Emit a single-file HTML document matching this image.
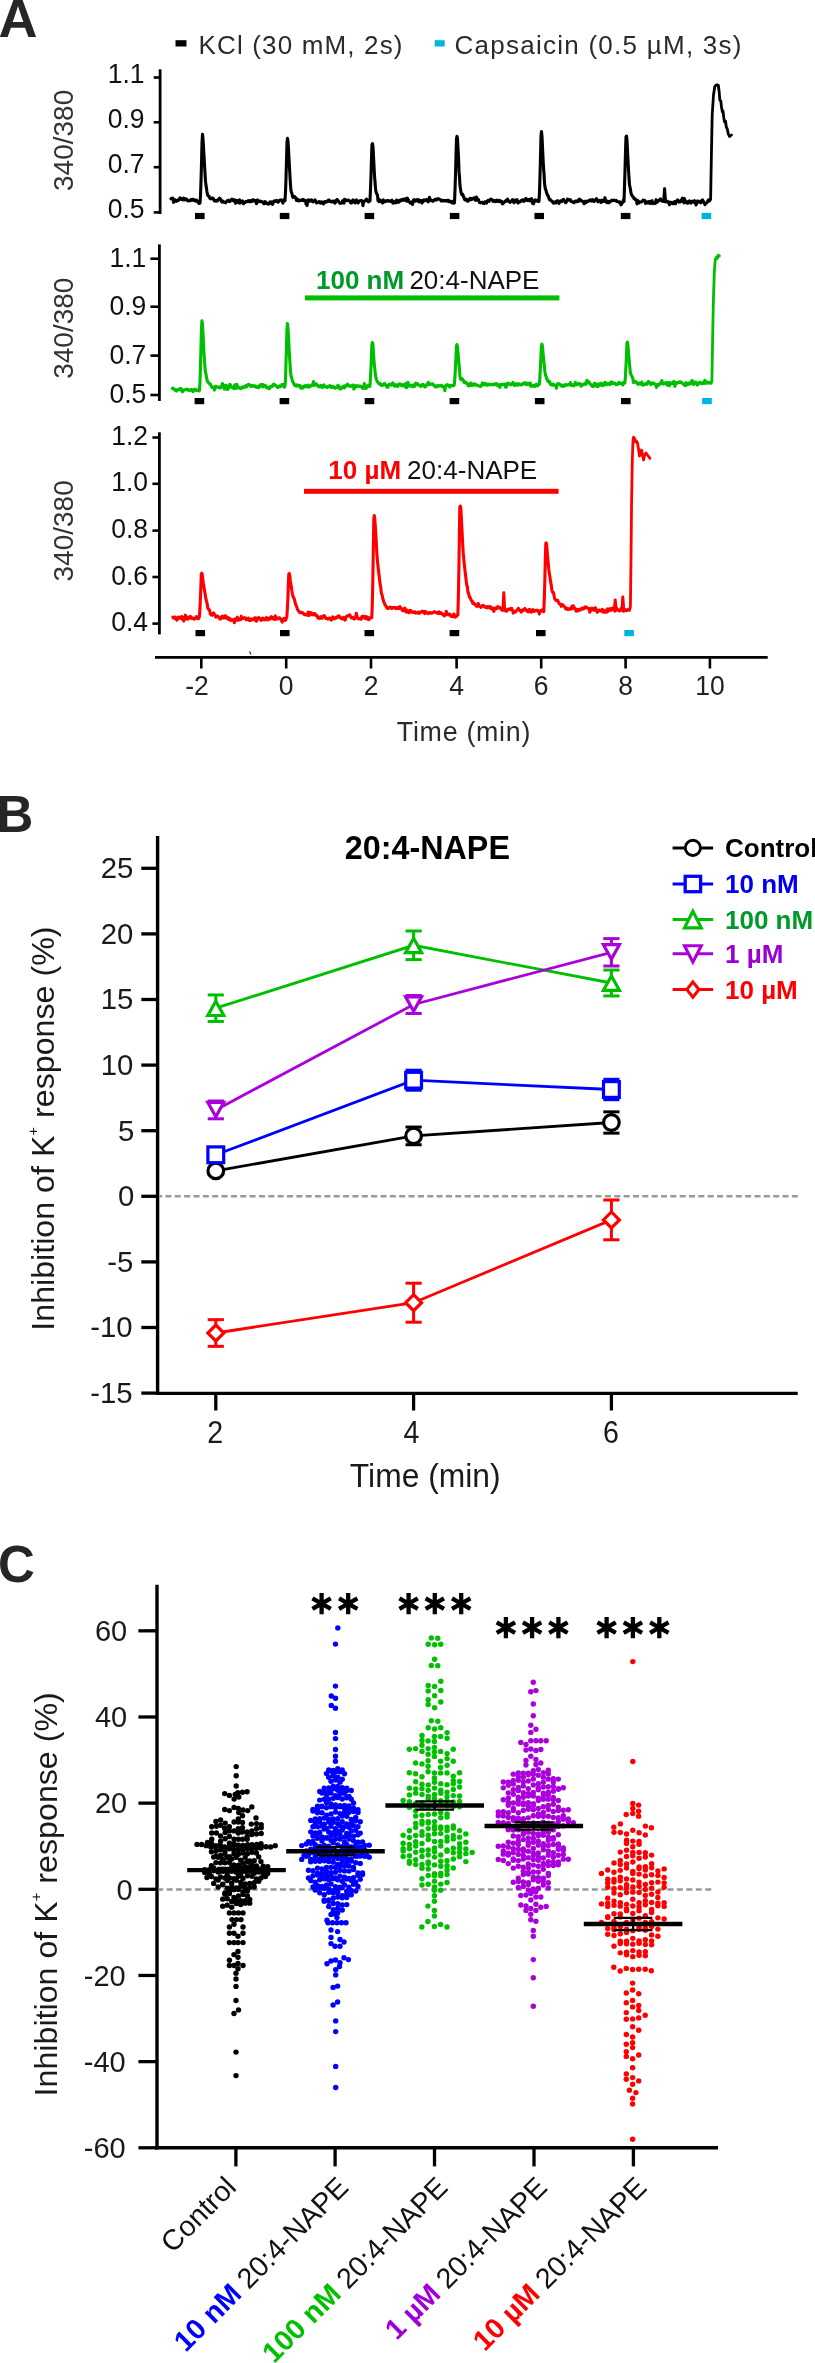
<!DOCTYPE html>
<html><head><meta charset="utf-8"><style>
html,body{margin:0;padding:0;background:#fff;overflow:hidden;width:815px;height:2363px;}
svg{display:block;font-family:"Liberation Sans", sans-serif;filter:blur(0.35px);}
</style></head><body>
<svg width="815" height="2363" viewBox="0 0 815 2363">
<rect width="815" height="2363" fill="#fff"/>
<text x="-1.4" y="36.6" font-size="54.0" text-anchor="start" font-weight="bold" fill="#262626" >A</text>
<text x="-3.6" y="831.5" font-size="51" text-anchor="start" font-weight="bold" fill="#262626" >B</text>
<text x="-2" y="1581.5" font-size="51" text-anchor="start" font-weight="bold" fill="#262626" >C</text>
<rect x="175.5" y="40.2" width="11" height="6.3" fill="#000"/>
<text x="198.5" y="54.3" font-size="26" text-anchor="start" font-weight="normal" fill="#2a2a2a" textLength="204" lengthAdjust="spacing">KCl (30 mM, 2s)</text>
<rect x="434.7" y="40.2" width="10" height="6.3" fill="#00b4e0"/>
<text x="454.5" y="54.3" font-size="26" text-anchor="start" font-weight="normal" fill="#2a2a2a" textLength="287" lengthAdjust="spacing">Capsaicin (0.5 µM, 3s)</text>
<line x1="160.1" y1="69.3" x2="160.1" y2="214" stroke="#000" stroke-width="2.8" />
<line x1="153.7" y1="77.5" x2="160.1" y2="77.5" stroke="#000" stroke-width="2.6" />
<text transform="translate(144.6,83.4) scale(1,1.06)" font-size="26.5" text-anchor="end" font-weight="normal" fill="#111" >1.1</text>
<line x1="153.7" y1="122.3" x2="160.1" y2="122.3" stroke="#000" stroke-width="2.6" />
<text transform="translate(144.6,128.2) scale(1,1.06)" font-size="26.5" text-anchor="end" font-weight="normal" fill="#111" >0.9</text>
<line x1="153.7" y1="167.2" x2="160.1" y2="167.2" stroke="#000" stroke-width="2.6" />
<text transform="translate(144.6,173.1) scale(1,1.06)" font-size="26.5" text-anchor="end" font-weight="normal" fill="#111" >0.7</text>
<line x1="153.7" y1="212.4" x2="160.1" y2="212.4" stroke="#000" stroke-width="2.6" />
<text transform="translate(144.6,218.3) scale(1,1.06)" font-size="26.5" text-anchor="end" font-weight="normal" fill="#111" >0.5</text>
<text transform="translate(73.4,140.4) rotate(-90)" x="0" y="0" font-size="28" text-anchor="middle" fill="#333">340/380</text>
<line x1="159.4" y1="244.4" x2="159.4" y2="401" stroke="#000" stroke-width="2.8" />
<line x1="150.4" y1="258.7" x2="159.4" y2="258.7" stroke="#000" stroke-width="2.6" />
<text transform="translate(146.3,266.8) scale(1,1.06)" font-size="26.5" text-anchor="end" font-weight="normal" fill="#111" >1.1</text>
<line x1="150.4" y1="306.7" x2="159.4" y2="306.7" stroke="#000" stroke-width="2.6" />
<text transform="translate(146.3,314.8) scale(1,1.06)" font-size="26.5" text-anchor="end" font-weight="normal" fill="#111" >0.9</text>
<line x1="150.4" y1="355.6" x2="159.4" y2="355.6" stroke="#000" stroke-width="2.6" />
<text transform="translate(146.3,363.7) scale(1,1.06)" font-size="26.5" text-anchor="end" font-weight="normal" fill="#111" >0.7</text>
<line x1="150.4" y1="395" x2="159.4" y2="395" stroke="#000" stroke-width="2.6" />
<text transform="translate(146.3,403.1) scale(1,1.06)" font-size="26.5" text-anchor="end" font-weight="normal" fill="#111" >0.5</text>
<text transform="translate(72.6,328.2) rotate(-90)" x="0" y="0" font-size="28" text-anchor="middle" fill="#333">340/380</text>
<line x1="159.4" y1="432.3" x2="159.4" y2="634.4" stroke="#000" stroke-width="2.8" />
<line x1="152.4" y1="437.5" x2="159.4" y2="437.5" stroke="#000" stroke-width="2.6" />
<text transform="translate(148,445.1) scale(1,1.06)" font-size="26.5" text-anchor="end" font-weight="normal" fill="#111" >1.2</text>
<line x1="152.4" y1="483.8" x2="159.4" y2="483.8" stroke="#000" stroke-width="2.6" />
<text transform="translate(148,491.4) scale(1,1.06)" font-size="26.5" text-anchor="end" font-weight="normal" fill="#111" >1.0</text>
<line x1="152.4" y1="530.6" x2="159.4" y2="530.6" stroke="#000" stroke-width="2.6" />
<text transform="translate(148,538.2) scale(1,1.06)" font-size="26.5" text-anchor="end" font-weight="normal" fill="#111" >0.8</text>
<line x1="152.4" y1="577" x2="159.4" y2="577" stroke="#000" stroke-width="2.6" />
<text transform="translate(148,584.6) scale(1,1.06)" font-size="26.5" text-anchor="end" font-weight="normal" fill="#111" >0.6</text>
<line x1="152.4" y1="623.6" x2="159.4" y2="623.6" stroke="#000" stroke-width="2.6" />
<text transform="translate(148,631.2) scale(1,1.06)" font-size="26.5" text-anchor="end" font-weight="normal" fill="#111" >0.4</text>
<text transform="translate(73.4,530.9) rotate(-90)" x="0" y="0" font-size="28" text-anchor="middle" fill="#333">340/380</text>
<line x1="155" y1="657.4" x2="767.7" y2="657.4" stroke="#000" stroke-width="2.6" />
<line x1="201.3" y1="657.4" x2="201.3" y2="668.5" stroke="#000" stroke-width="2.6" />
<text transform="translate(208.7,695.3) scale(1,1.03)" font-size="26.5" text-anchor="end" font-weight="normal" fill="#222" >-2</text>
<line x1="286.2" y1="657.4" x2="286.2" y2="668.5" stroke="#000" stroke-width="2.6" />
<text transform="translate(286.2,695.3) scale(1,1.03)" font-size="26.5" text-anchor="middle" font-weight="normal" fill="#222" >0</text>
<line x1="371" y1="657.4" x2="371" y2="668.5" stroke="#000" stroke-width="2.6" />
<text transform="translate(371,695.3) scale(1,1.03)" font-size="26.5" text-anchor="middle" font-weight="normal" fill="#222" >2</text>
<line x1="456.6" y1="657.4" x2="456.6" y2="668.5" stroke="#000" stroke-width="2.6" />
<text transform="translate(456.6,695.3) scale(1,1.03)" font-size="26.5" text-anchor="middle" font-weight="normal" fill="#222" >4</text>
<line x1="541.2" y1="657.4" x2="541.2" y2="668.5" stroke="#000" stroke-width="2.6" />
<text transform="translate(541.2,695.3) scale(1,1.03)" font-size="26.5" text-anchor="middle" font-weight="normal" fill="#222" >6</text>
<line x1="625.6" y1="657.4" x2="625.6" y2="668.5" stroke="#000" stroke-width="2.6" />
<text transform="translate(625.6,695.3) scale(1,1.03)" font-size="26.5" text-anchor="middle" font-weight="normal" fill="#222" >8</text>
<line x1="709.9" y1="657.4" x2="709.9" y2="668.5" stroke="#000" stroke-width="2.6" />
<text transform="translate(709.9,695.3) scale(1,1.03)" font-size="26.5" text-anchor="middle" font-weight="normal" fill="#222" >10</text>
<text x="463.6" y="741" font-size="26.8" text-anchor="middle" font-weight="normal" fill="#2a2a2a" textLength="133.5" lengthAdjust="spacing">Time (min)</text>
<rect x="195" y="212.9" width="9.6" height="6.2" fill="#000"/>
<rect x="279.8" y="212.9" width="9.6" height="6.2" fill="#000"/>
<rect x="364.6" y="212.9" width="9.6" height="6.2" fill="#000"/>
<rect x="449.8" y="212.9" width="9.6" height="6.2" fill="#000"/>
<rect x="534.4" y="212.9" width="9.6" height="6.2" fill="#000"/>
<rect x="620.8" y="212.9" width="9.6" height="6.2" fill="#000"/>
<rect x="701.6" y="212.9" width="9.6" height="6.2" fill="#00b4e0"/>
<rect x="194.6" y="398" width="9.6" height="6.2" fill="#000"/>
<rect x="279.6" y="398" width="9.6" height="6.2" fill="#000"/>
<rect x="364.7" y="398" width="9.6" height="6.2" fill="#000"/>
<rect x="449.6" y="398" width="9.6" height="6.2" fill="#000"/>
<rect x="534.9" y="398" width="9.6" height="6.2" fill="#000"/>
<rect x="621" y="398" width="9.6" height="6.2" fill="#000"/>
<rect x="702.2" y="398" width="9.6" height="6.2" fill="#00b4e0"/>
<rect x="195.5" y="630" width="9.6" height="6.2" fill="#000"/>
<rect x="280" y="630" width="9.6" height="6.2" fill="#000"/>
<rect x="364.5" y="630" width="9.6" height="6.2" fill="#000"/>
<rect x="449.6" y="630" width="9.6" height="6.2" fill="#000"/>
<rect x="536" y="630" width="9.6" height="6.2" fill="#000"/>
<rect x="621" y="630" width="9.6" height="6.2" fill="none"/>
<rect x="624.3" y="630" width="9.6" height="6.2" fill="#00b4e0"/>
<rect x="305" y="295.4" width="254.4" height="5" fill="#00be00"/>
<text x="316" y="289.3" font-size="26" text-anchor="start" font-weight="normal" fill="#111" ><tspan font-weight="bold" fill="#009a2a">100 nM</tspan><tspan dx="-2"> 20:4-NAPE</tspan></text>
<rect x="304" y="488.8" width="254.6" height="5" fill="#ff0000"/>
<text x="328.3" y="479.4" font-size="26" text-anchor="start" font-weight="normal" fill="#111" ><tspan font-weight="bold" fill="#ff0000">10 µM</tspan><tspan dx="-1.2"> 20:4-NAPE</tspan></text>
<polyline points="171,198.83 171.5,198.47 172,198.3 172.5,198.05 173,198.43 173.5,202.36 174,200.51 174.5,199.69 175,199.73 175.5,200.68 176,201.37 176.5,200.66 177,200.41 177.5,200.82 178,200.71 178.5,200.26 179,198.98 179.5,199.09 180,197.92 180.5,198.18 181,198.48 181.5,199.42 182,199.15 182.5,199.8 183,198.38 183.5,198.17 184,198.44 184.5,199.92 185,199.5 185.5,199.1 186,198.77 186.5,199.06 187,200.38 187.5,200.52 188,200.99 188.5,200.87 189,200.7 189.5,200.64 190,200.03 190.5,200.55 191,199.83 191.5,199.44 192,200.08 192.5,199.42 193,200.07 193.5,199.38 194,200.01 194.5,200.53 195,200.86 195.5,201.05 196,200.08 196.5,200.15 197,200.7 197.5,201.65 198,202.01 198.5,202.66 199,203.53 199.5,203.36 200,202.83 200.5,195.51 201,181.22 201.5,163.47 202,143.09 202.5,134.23 203,139.1 203.5,146.99 204,155.89 204.5,164.71 205,173.39 205.5,181.34 206,185.33 206.5,188.48 207,192.03 207.5,194.39 208,195.86 208.5,195.92 209,196.12 209.5,197.51 210,198.43 210.5,198.81 211,198.4 211.5,198.72 212,198.53 212.5,197.92 213,198.73 213.5,198.78 214,200.4 214.5,200.98 215,201.13 215.5,200.91 216,200.44 216.5,201 217,200.54 217.5,200.79 218,199.56 218.5,199.93 219,198.84 219.5,198.18 220,198.37 220.5,199.02 221,200.06 221.5,201.66 222,202.07 222.5,201.87 223,201.05 223.5,201.74 224,202.3 224.5,202.27 225,202.28 225.5,202.8 226,202.22 226.5,201.61 227,200.86 227.5,200.78 228,200.79 228.5,200.26 229,201.31 229.5,201 230,201.5 230.5,200.55 231,200.3 231.5,199.4 232,199.19 232.5,199.87 233,199.87 233.5,200.97 234,199.85 234.5,201.12 235,199.83 235.5,203.33 236,200.96 236.5,200.35 237,200.88 237.5,201.74 238,202.5 238.5,201.45 239,200.21 239.5,199.79 240,203.16 240.5,201.1 241,202.09 241.5,201.53 242,201.5 242.5,200.93 243,202.02 243.5,203.76 244,203.14 244.5,202.48 245,202.49 245.5,201.8 246,201.27 246.5,201.8 247,201.67 247.5,201.63 248,200.84 248.5,200.56 249,201.54 249.5,201.75 250,201.51 250.5,200.67 251,201.67 251.5,201.32 252,201.32 252.5,200.32 253,199.68 253.5,200.44 254,200.64 254.5,201.21 255,200.26 255.5,200.54 256,200.54 256.5,203.7 257,200.3 257.5,199.96 258,200.74 258.5,200.98 259,201.76 259.5,201.31 260,200.95 260.5,201.14 261,201.59 261.5,201.88 262,201.98 262.5,201.77 263,202.54 263.5,203.24 264,203.85 264.5,202.95 265,201.6 265.5,201.92 266,202.77 266.5,203.56 267,203.07 267.5,203.19 268,203.65 268.5,204.14 269,203.54 269.5,203.49 270,201.95 270.5,202.15 271,201.84 271.5,202.93 272,203.8 272.5,204.35 273,203.48 273.5,201.51 274,201.06 274.5,200.9 275,201.52 275.5,201.54 276,201.38 276.5,200.48 277,200.74 277.5,201.03 278,202.23 278.5,201.71 279,201.16 279.5,200.32 280,200.02 280.5,200.12 281,199.8 281.5,200.35 282,200.69 282.5,201.99 283,203.07 283.5,200.14 284,199.57 284.5,199.62 285,200.54 285.5,191.94 286,177.95 286.5,160.32 287,142.54 287.5,138.37 288,141.69 288.5,149.04 289,159.06 289.5,167.65 290,176.72 290.5,185.34 291,190.56 291.5,192.53 292,193.62 292.5,196.35 293,197.41 293.5,196.97 294,196.58 294.5,196.59 295,196.79 295.5,197.54 296,199.27 296.5,200.56 297,200.38 297.5,199.08 298,199.6 298.5,200.54 299,201 299.5,200.48 300,200.21 300.5,200.26 301,200.45 301.5,200.54 302,199.86 302.5,199.7 303,199.33 303.5,200.63 304,199.77 304.5,200.25 305,200.22 305.5,200.22 306,204.18 306.5,202.12 307,205.48 307.5,202.47 308,201.56 308.5,199.86 309,199.96 309.5,199.96 310,201.1 310.5,200.55 311,200.61 311.5,199.82 312,201.03 312.5,201.65 313,201.88 313.5,201.6 314,201.01 314.5,201.2 315,199.9 315.5,200.52 316,201.63 316.5,202.99 317,202.57 317.5,202.24 318,202.39 318.5,201.98 319,201.52 319.5,201.66 320,202.86 320.5,202.85 321,203.18 321.5,201.9 322,202.02 322.5,202.24 323,203.31 323.5,203.8 324,202.82 324.5,201.77 325,201.45 325.5,202.28 326,202.13 326.5,201.86 327,201.77 327.5,201.32 328,200.43 328.5,200.07 329,200.08 329.5,201.37 330,200.78 330.5,201.48 331,201.68 331.5,202.08 332,201.66 332.5,201.13 333,201.56 333.5,201.09 334,201.44 334.5,202.85 335,203.12 335.5,202.45 336,200.41 336.5,200.51 337,199.5 337.5,199.88 338,200.9 338.5,201 339,202.26 339.5,202.58 340,203.38 340.5,203.23 341,203.2 341.5,203.15 342,202.61 342.5,200.91 343,201.18 343.5,202.19 344,203.07 344.5,199.25 345,200.48 345.5,199.65 346,200.2 346.5,200.69 347,200.66 347.5,200.45 348,200.18 348.5,200.07 349,200.45 349.5,200.8 350,201.34 350.5,202.58 351,202.93 351.5,203 352,201.16 352.5,200.51 353,199.86 353.5,200.56 354,200.77 354.5,202.39 355,202.88 355.5,201.22 356,200.21 356.5,199.86 357,200.93 357.5,202.65 358,203.07 358.5,202.45 359,201.59 359.5,200.81 360,200.89 360.5,200.73 361,200.56 361.5,200.33 362,201.34 362.5,202.22 363,205.63 363.5,202.4 364,202 364.5,201.03 365,200.97 365.5,200.22 366,199.85 366.5,199.13 367,199.93 367.5,200.8 368,201.42 368.5,201.9 369,201.47 369.5,201.11 370,200.86 370.5,188.59 371,175.31 371.5,157.78 372,144.52 372.5,143.58 373,146.74 373.5,156.32 374,166.04 374.5,175.74 375,181.33 375.5,188.54 376,191.93 376.5,193.08 377,194.52 377.5,195.18 378,200.48 378.5,198.88 379,201.71 379.5,200.68 380,201.32 380.5,200.23 381,200.75 381.5,201.82 382,202.23 382.5,203.04 383,202.7 383.5,199.91 384,201.77 384.5,201.38 385,201.75 385.5,201.25 386,201.37 386.5,200.75 387,200.55 387.5,200.44 388,200.57 388.5,201.28 389,201.26 389.5,201.32 390,200.75 390.5,200.85 391,201.56 391.5,200.64 392,200.18 392.5,202.39 393,203.21 393.5,201.89 394,201.95 394.5,201.69 395,201.83 395.5,202.85 396,202.37 396.5,199.96 397,201.68 397.5,201.51 398,202.33 398.5,202.08 399,202.01 399.5,200.28 400,201.25 400.5,200.41 401,200.1 401.5,199.68 402,200.36 402.5,200.46 403,200.29 403.5,199.06 404,199.15 404.5,199.91 405,200.07 405.5,200.41 406,200.82 406.5,198.25 407,201.17 407.5,198.16 408,201.01 408.5,200 409,201.6 409.5,201.76 410,202.97 410.5,202.53 411,202.51 411.5,202.16 412,202.8 412.5,204.46 413,201.68 413.5,200.11 414,199.58 414.5,200.63 415,201.28 415.5,201.22 416,200.25 416.5,199.64 417,200.59 417.5,200.06 418,200.87 418.5,199.65 419,201.97 419.5,201.12 420,201.5 420.5,200.41 421,200.53 421.5,201.58 422,203.08 422.5,201.41 423,201.71 423.5,200.15 424,199.87 424.5,200.1 425,200.74 425.5,200.42 426,199.71 426.5,199.8 427,199.47 427.5,200.79 428,201.75 428.5,201.64 429,200.82 429.5,197.25 430,199.72 430.5,199.99 431,200 431.5,200.03 432,200.85 432.5,201.03 433,201.28 433.5,200.91 434,200.27 434.5,199.65 435,199.5 435.5,199.18 436,200 436.5,200.05 437,199.43 437.5,199.49 438,198.69 438.5,199.07 439,198.98 439.5,199.07 440,199.49 440.5,199.9 441,200.95 441.5,200.89 442,200.94 442.5,200.28 443,200.49 443.5,200.58 444,200.98 444.5,200.65 445,200.85 445.5,200.41 446,200.81 446.5,200.98 447,201.13 447.5,200.39 448,200.71 448.5,200.35 449,201.66 449.5,201.69 450,201.39 450.5,201.23 451,201.6 451.5,202.42 452,202.93 452.5,201.61 453,201.24 453.5,201.81 454,203.21 454.5,202.75 455,189.85 455.5,175.08 456,156.33 456.5,138.74 457,136.25 457.5,138.57 458,148.63 458.5,157.5 459,171.4 459.5,177.46 460,185.81 460.5,189.09 461,192.25 461.5,193.74 462,194.84 462.5,194.08 463,194.98 463.5,196.42 464,198.02 464.5,199.35 465,199.83 465.5,199.11 466,199.03 466.5,199.16 467,200.21 467.5,201.15 468,201.28 468.5,200.46 469,200.54 469.5,199.24 470,198.25 470.5,198.37 471,198.51 471.5,199.56 472,198.48 472.5,198.55 473,198.25 473.5,198.86 474,197.76 474.5,197.74 475,198.9 475.5,200.29 476,200.03 476.5,196.97 477,200.08 477.5,199 478,199.26 478.5,199.52 479,201.42 479.5,202.47 480,202.71 480.5,202.92 481,202.56 481.5,202.52 482,202.25 482.5,202.48 483,202.32 483.5,203.57 484,203.6 484.5,203.17 485,201.79 485.5,202.64 486,202.52 486.5,203.22 487,201.35 487.5,201.01 488,200.26 488.5,200.78 489,201.42 489.5,200.26 490,199.64 490.5,199.2 491,199.66 491.5,199.24 492,199.62 492.5,200.12 493,201.29 493.5,200.72 494,200.91 494.5,200.81 495,201.63 495.5,200.45 496,200.51 496.5,201.34 497,200.17 497.5,201.14 498,201.38 498.5,200.81 499,200.75 499.5,200.48 500,201.78 500.5,201.74 501,201.11 501.5,201.39 502,202.79 502.5,203.88 503,203.64 503.5,202.22 504,202.07 504.5,202.12 505,201.69 505.5,200.86 506,201.3 506.5,201.31 507,199.93 507.5,199.16 508,200.24 508.5,200.88 509,201.69 509.5,201.46 510,202.34 510.5,201.61 511,201.68 511.5,200.85 512,200.74 512.5,199.61 513,200.82 513.5,201.35 514,202.79 514.5,200.17 515,200.33 515.5,201.33 516,200.67 516.5,200.1 517,199.56 517.5,202 518,203 518.5,202.69 519,201.89 519.5,202.12 520,201.87 520.5,201.33 521,200.55 521.5,200.56 522,200.96 522.5,199.92 523,200.35 523.5,201.22 524,201.4 524.5,200.74 525,199.28 525.5,199.11 526,198.49 526.5,200.21 527,200.33 527.5,200.54 528,199.67 528.5,199.83 529,199.46 529.5,200.81 530,200.01 530.5,200.65 531,199.66 531.5,198.64 532,201.12 532.5,203.28 533,203.37 533.5,203.82 534,202.29 534.5,200.57 535,199.79 535.5,200.35 536,200.89 536.5,200.83 537,200.96 537.5,200.14 538,201.47 538.5,200.87 539,201.27 539.5,191.95 540,175.58 540.5,156.85 541,135.61 541.5,131.61 542,136.6 542.5,146.98 543,157.81 543.5,167.51 544,173.21 544.5,182.98 545,186.88 545.5,189.43 546,190.19 546.5,192.64 547,193.86 547.5,195.17 548,195.82 548.5,196.67 549,198.63 549.5,199.55 550,200.01 550.5,199.71 551,200.67 551.5,200.95 552,200.94 552.5,201.67 553,202.78 553.5,203.07 554,203.26 554.5,202.5 555,202.72 555.5,201.73 556,203.01 556.5,201.85 557,201.75 557.5,200.65 558,201.78 558.5,202.68 559,203.51 559.5,201.99 560,201.86 560.5,200.85 561,201.7 561.5,201.44 562,201.38 562.5,200.11 563,199.71 563.5,199.35 564,200.46 564.5,200.77 565,201.47 565.5,202.77 566,202.52 566.5,201.66 567,200.43 567.5,199.21 568,199.45 568.5,200.01 569,200.26 569.5,199.54 570,199.83 570.5,199.83 571,201.39 571.5,201.23 572,201.47 572.5,201.64 573,202.2 573.5,202.13 574,202.74 574.5,202.18 575,201.29 575.5,201.1 576,200.96 576.5,201.52 577,200.9 577.5,201.55 578,201.14 578.5,201.3 579,199.27 579.5,199.08 580,199.58 580.5,200.5 581,200.94 581.5,200.53 582,201.17 582.5,201.17 583,201.61 583.5,201.75 584,203.73 584.5,203.37 585,202.87 585.5,201.16 586,202.53 586.5,202.11 587,202.06 587.5,201.19 588,201.53 588.5,201.23 589,200.57 589.5,200.09 590,200.08 590.5,199.85 591,200.92 591.5,201.07 592,200.37 592.5,199.64 593,200.26 593.5,201.24 594,201.56 594.5,200.19 595,200.39 595.5,200.41 596,199.73 596.5,198.71 597,199.92 597.5,200.82 598,201.94 598.5,200.86 599,201.07 599.5,200.33 600,200.65 600.5,201.52 601,202.46 601.5,202.13 602,200.2 602.5,200.44 603,201.43 603.5,201.27 604,200.26 604.5,199.88 605,197.66 605.5,201.01 606,202.02 606.5,202.43 607,202.71 607.5,201.13 608,201.36 608.5,202.24 609,202.84 609.5,202.46 610,201.22 610.5,201.36 611,200.68 611.5,200.62 612,200.05 612.5,200.77 613,200.49 613.5,200.48 614,200.17 614.5,200.44 615,200.63 615.5,200.59 616,200.31 616.5,201.09 617,201.54 617.5,201.35 618,201.71 618.5,201.93 619,201.94 619.5,202.87 620,201.86 620.5,203.03 621,204.86 621.5,204.32 622,203.39 622.5,202.19 623,202.24 623.5,199.68 624,201.48 624.5,186.37 625,170.08 625.5,151.55 626,136.63 626.5,136.04 627,140.24 627.5,150.49 628,160.35 628.5,169.9 629,177.72 629.5,185.07 630,186.91 630.5,189.73 631,193.19 631.5,194.49 632,195.57 632.5,195.99 633,196.91 633.5,197.24 634,198.68 634.5,198.38 635,199.47 635.5,199.12 636,199.77 636.5,200.46 637,203.86 637.5,201.23 638,200.7 638.5,201.33 639,202.94 639.5,202.38 640,202.08 640.5,202.03 641,202.03 641.5,201.95 642,201.44 642.5,201.06 643,200.11 643.5,200.09 644,200.54 644.5,200.45 645,200.58 645.5,203.38 646,201.67 646.5,202.22 647,201.83 647.5,202.1 648,203.17 648.5,201.93 649,202.09 649.5,201.47 650,202.91 650.5,203.51 651,202.83 651.5,201.02 652,200.72 652.5,202.33 653,203.57 653.5,203.19 654,203.11 654.5,202.74 655,202.78 655.5,203.27 656,199.81 656.5,201.78 657,200.54 657.5,202.09 658,201.41 658.5,201 659,200.7 659.5,199.67 660,199.86 660.5,198.89 661,199.5 661.5,200.13 662,201.15 662.5,201.17 663,201.35 663.5,201.1 664,201.31 664.5,201.13 665,201.7 665.5,201.75 666,201.97 666.5,201.13 667,201.3 667.5,201.27 668,202.16 668.5,202.54 669,202.81 669.5,204.74 670,202.07 670.5,202.31 671,202.46 671.5,203.16 672,202.93 672.5,203.76 673,203.73 673.5,203.17 674,201.83 674.5,201.6 675,201.91 675.5,203.78 676,201.96 676.5,201.3 677,200.71 677.5,199.83 678,201.41 678.5,201 679,202.06 679.5,201.13 680,201.95 680.5,201.76 681,200.82 681.5,199.67 682,199.32 682.5,198.12 683,201.09 683.5,201.73 684,202.77 684.5,198.44 685,202.02 685.5,200.99 686,202.1 686.5,202.05 687,202.91 687.5,203.28 688,203.32 688.5,201.39 689,201.52 689.5,200.91 690,202.02 690.5,201.97 691,203.04 691.5,201.52 692,201.63 692.5,201.1 693,202.07 693.5,202.13 694,201.12 694.5,200.74 695,201.58 695.5,203.07 696,204.9 696.5,204.19 697,201.79 697.5,200.93 698,201.96 698.5,202.03 699,202.03 699.5,201.61 700,202.36 700.5,202.81 701,201.54 701.5,200.5 702,200.54 702.5,199.81 703,201.05 703.5,201.35 704,203.25 704.5,203.56 705,204.75 705.5,203.6 706,203.25 706.5,202.95 707,202.69 707.5,201.53 708,200.63 708.5,199.96 709,200.87 709.5,199.74" fill="none" stroke="#000" stroke-width="3.1" stroke-linejoin="round" stroke-linecap="round"/>
<polyline points="709.5,201 710.6,199.5 711.3,160 712.2,115 713.5,95 714.8,86.5 716.5,84.8 718.3,85.2 719.2,92 719.8,100 720.8,101 721.5,107 722.4,112 723,111 723.8,118 724.6,122 725.5,121 726.3,127 727.3,129 728.3,134 729.5,136.5 731.5,135" fill="none" stroke="#000" stroke-width="2.8" stroke-linejoin="round" stroke-linecap="round"/>
<polyline points="172.4,388.28 172.9,388.35 173.4,388.39 173.9,389.32 174.4,389.45 174.9,390.15 175.4,389.97 175.9,389.71 176.4,391.05 176.9,390 177.4,390.34 177.9,389.78 178.4,389.68 178.9,389.05 179.4,389.55 179.9,389.59 180.4,388.6 180.9,388.27 181.4,389.39 181.9,391.12 182.4,391.79 182.9,391.33 183.4,390.37 183.9,390.13 184.4,389.76 184.9,389.89 185.4,389.56 185.9,389.47 186.4,389.18 186.9,389.3 187.4,389.5 187.9,389.34 188.4,390.36 188.9,390.26 189.4,390.46 189.9,390.43 190.4,390.2 190.9,389.9 191.4,389.42 191.9,390.04 192.4,390.71 192.9,391.76 193.4,390.57 193.9,390.06 194.4,389.14 194.9,390.16 195.4,390.16 195.9,389.94 196.4,389.86 196.9,390.46 197.4,390.07 197.9,390.59 198.4,390.58 198.9,390.91 199.4,390.54 199.9,383.55 200.4,368.92 200.9,351.3 201.4,330.2 201.9,320.71 202.4,323.38 202.9,331.47 203.4,341.29 203.9,351.63 204.4,359.77 204.9,366.68 205.4,372.07 205.9,373.36 206.4,376.99 206.9,379.02 207.4,381.08 207.9,382.12 208.4,382.23 208.9,383.33 209.4,383.66 209.9,384.05 210.4,383.98 210.9,385.41 211.4,385.94 211.9,387.36 212.4,386.88 212.9,387.11 213.4,386.97 213.9,387.86 214.4,390.09 214.9,387.76 215.4,386.99 215.9,386.2 216.4,387.26 216.9,387.07 217.4,387.31 217.9,386.99 218.4,387.36 218.9,387.6 219.4,386.9 219.9,387.96 220.4,387.44 220.9,387.8 221.4,386.94 221.9,386.37 222.4,383.59 222.9,384.97 223.4,386.56 223.9,386.98 224.4,389.22 224.9,385.61 225.4,387.65 225.9,385.31 226.4,386.41 226.9,387.57 227.4,389.54 227.9,389.16 228.4,388.37 228.9,386.57 229.4,384.64 229.9,384.36 230.4,384.71 230.9,386.61 231.4,387.11 231.9,387.49 232.4,387.12 232.9,386.93 233.4,386.92 233.9,388.71 234.4,386.26 234.9,384.79 235.4,386.23 235.9,387.31 236.4,388.45 236.9,384.23 237.4,386.86 237.9,386.57 238.4,387.59 238.9,387.75 239.4,388.05 239.9,387.89 240.4,388.61 240.9,388.6 241.4,388.38 241.9,387.56 242.4,386.91 242.9,387.4 243.4,387.39 243.9,387.69 244.4,386.77 244.9,386.04 245.4,385.97 245.9,385.73 246.4,386.93 246.9,386.38 247.4,385.87 247.9,384.71 248.4,384.37 248.9,384.77 249.4,384.67 249.9,385.14 250.4,385.44 250.9,386.51 251.4,385.63 251.9,386.05 252.4,385.36 252.9,385.59 253.4,385.93 253.9,386.24 254.4,386.42 254.9,385.8 255.4,386.14 255.9,386.61 256.4,387.33 256.9,386.63 257.4,386.59 257.9,387.6 258.4,387.74 258.9,387.63 259.4,386.08 259.9,384.98 260.4,385.18 260.9,384.51 261.4,386.34 261.9,386.03 262.4,385.97 262.9,384.57 263.4,386.87 263.9,385.33 264.4,385.84 264.9,385.22 265.4,385.43 265.9,386.02 266.4,387.56 266.9,387.98 267.4,387.68 267.9,387.43 268.4,388 268.9,388.73 269.4,388.67 269.9,387.99 270.4,386.63 270.9,386.39 271.4,386.62 271.9,386.75 272.4,386.34 272.9,384.96 273.4,384.47 273.9,384.08 274.4,384.9 274.9,385.02 275.4,385.1 275.9,385.75 276.4,386.15 276.9,386.91 277.4,387.13 277.9,387.53 278.4,386.71 278.9,386.49 279.4,385.89 279.9,386.79 280.4,386.71 280.9,386.34 281.4,385.63 281.9,384.54 282.4,384.51 282.9,384.75 283.4,384.61 283.9,384.46 284.4,387.3 284.9,385.73 285.4,381.22 285.9,366.24 286.4,349.95 286.9,330.71 287.4,323.48 287.9,327.12 288.4,334.81 288.9,344.13 289.4,354.01 289.9,362.06 290.4,370.03 290.9,374.85 291.4,377.26 291.9,378.73 292.4,380.94 292.9,381.73 293.4,382.71 293.9,384.03 294.4,384.85 294.9,385.64 295.4,385.3 295.9,384.99 296.4,386.14 296.9,385.94 297.4,384.91 297.9,385.09 298.4,385.58 298.9,386.16 299.4,385.77 299.9,385.45 300.4,387.01 300.9,388.12 301.4,387.6 301.9,387.15 302.4,386.66 302.9,387.96 303.4,387.32 303.9,386.79 304.4,385.92 304.9,385.74 305.4,386.75 305.9,385.5 306.4,385.8 306.9,386.59 307.4,385.99 307.9,386.2 308.4,385.2 308.9,387.07 309.4,386.65 309.9,386.78 310.4,385.81 310.9,385.71 311.4,385.61 311.9,385.49 312.4,384.56 312.9,383.97 313.4,381.61 313.9,384.67 314.4,385.53 314.9,384.6 315.4,384.31 315.9,383.78 316.4,383.71 316.9,384.6 317.4,385.61 317.9,386.3 318.4,385.94 318.9,386.83 319.4,386.6 319.9,386.56 320.4,386.58 320.9,385.43 321.4,386.73 321.9,386.81 322.4,387.52 322.9,385.86 323.4,385.61 323.9,384.88 324.4,386.3 324.9,386.61 325.4,386.55 325.9,386.78 326.4,387.36 326.9,386.88 327.4,387.39 327.9,386.69 328.4,386.84 328.9,386.19 329.4,385.83 329.9,385.56 330.4,385.67 330.9,386.86 331.4,387.46 331.9,387.06 332.4,387.28 332.9,386.24 333.4,387.45 333.9,386.95 334.4,386.99 334.9,388.14 335.4,388.2 335.9,387.46 336.4,387.32 336.9,386.82 337.4,387.26 337.9,385.23 338.4,385.78 338.9,386.14 339.4,388.31 339.9,388.3 340.4,389.03 340.9,388.92 341.4,388.66 341.9,387.06 342.4,387.12 342.9,386.72 343.4,387.27 343.9,386.02 344.4,387.9 344.9,385.8 345.4,386.44 345.9,386.44 346.4,385.84 346.9,385.25 347.4,384.13 347.9,385.11 348.4,384.87 348.9,385.84 349.4,385.55 349.9,386.41 350.4,386.18 350.9,385.87 351.4,385.73 351.9,386.29 352.4,385.82 352.9,385.16 353.4,385.16 353.9,389.19 354.4,387.1 354.9,386.46 355.4,386.06 355.9,385.64 356.4,386.77 356.9,386.02 357.4,386 357.9,385.76 358.4,385.88 358.9,386.23 359.4,386.27 359.9,386.45 360.4,386.48 360.9,386.22 361.4,386.87 361.9,387.1 362.4,388.16 362.9,388.53 363.4,387.88 363.9,386.85 364.4,383.58 364.9,386.56 365.4,388.35 365.9,388.5 366.4,388.08 366.9,387.05 367.4,386.26 367.9,385.5 368.4,386.09 368.9,386.29 369.4,385.22 369.9,386.26 370.4,379.1 370.9,369.27 371.4,357.47 371.9,344.42 372.4,342.48 372.9,344.7 373.4,352.4 373.9,359.64 374.4,365.53 374.9,369.81 375.4,374.79 375.9,377.42 376.4,379.11 376.9,380.78 377.4,381.58 377.9,382.63 378.4,383.27 378.9,383.64 379.4,383.17 379.9,383.64 380.4,384.48 380.9,385.34 381.4,385.34 381.9,384.69 382.4,385.19 382.9,385.34 383.4,384.43 383.9,384.31 384.4,383.4 384.9,383.89 385.4,384.57 385.9,385.09 386.4,386.13 386.9,387.08 387.4,387.3 387.9,387.23 388.4,385.39 388.9,385 389.4,384.18 389.9,384.57 390.4,384.36 390.9,384.41 391.4,385.07 391.9,384.82 392.4,383.72 392.9,382.88 393.4,383.79 393.9,384.76 394.4,385.96 394.9,386.27 395.4,386.16 395.9,386.03 396.4,384.69 396.9,385.77 397.4,385.97 397.9,386.42 398.4,384.62 398.9,384.42 399.4,383.86 399.9,383.91 400.4,383.97 400.9,385.03 401.4,385.44 401.9,385.86 402.4,385.08 402.9,385.5 403.4,384.67 403.9,385.21 404.4,385.27 404.9,385.4 405.4,386.98 405.9,383.42 406.4,387.82 406.9,386.31 407.4,386.84 407.9,382.32 408.4,384.87 408.9,384.86 409.4,385.49 409.9,385.97 410.4,386.04 410.9,385.15 411.4,385.89 411.9,385.73 412.4,386.72 412.9,385.14 413.4,385.74 413.9,385.8 414.4,386.43 414.9,384.79 415.4,383.44 415.9,383.05 416.4,383.64 416.9,384.54 417.4,384.93 417.9,383.94 418.4,384.72 418.9,385.28 419.4,385.5 419.9,385.33 420.4,386.01 420.9,386.36 421.4,385.81 421.9,384.9 422.4,384.56 422.9,384.25 423.4,384.72 423.9,385.49 424.4,386.52 424.9,386.91 425.4,386.86 425.9,386.21 426.4,384.97 426.9,384.17 427.4,384.27 427.9,384.68 428.4,382.28 428.9,384.71 429.4,384.47 429.9,384.36 430.4,384.47 430.9,384.02 431.4,384.3 431.9,383.96 432.4,383.81 432.9,383.92 433.4,385.2 433.9,385.15 434.4,386.09 434.9,385.73 435.4,386.96 435.9,386.42 436.4,386.64 436.9,386.14 437.4,386.65 437.9,385.46 438.4,385.65 438.9,385.73 439.4,385.71 439.9,386.07 440.4,385.93 440.9,385.49 441.4,385.1 441.9,385.73 442.4,386.73 442.9,386.04 443.4,386.27 443.9,386.3 444.4,387.51 444.9,390.74 445.4,386.25 445.9,385.42 446.4,385 446.9,384.63 447.4,384.98 447.9,385.5 448.4,385.42 448.9,385.2 449.4,386.31 449.9,387 450.4,386.19 450.9,385.53 451.4,385.68 451.9,385.81 452.4,385.24 452.9,385.17 453.4,385.69 453.9,385.65 454.4,383.88 454.9,377.53 455.4,368.4 455.9,358.25 456.4,347 456.9,344.57 457.4,346.28 457.9,351.58 458.4,357.1 458.9,363.51 459.4,368.17 459.9,375.15 460.4,378.45 460.9,379.54 461.4,378.11 461.9,378.8 462.4,378.83 462.9,379.65 463.4,380.32 463.9,382.18 464.4,382.71 464.9,382.77 465.4,382.05 465.9,382.24 466.4,382.76 466.9,383.2 467.4,384.51 467.9,384.79 468.4,385.72 468.9,385.37 469.4,385.93 469.9,384.02 470.4,383.25 470.9,383.1 471.4,385.27 471.9,385.72 472.4,385.52 472.9,384.6 473.4,384.56 473.9,383.62 474.4,384.25 474.9,384.79 475.4,385.2 475.9,384.39 476.4,384.87 476.9,385.14 477.4,385.24 477.9,385.57 478.4,385.56 478.9,385.99 479.4,385.93 479.9,386.15 480.4,386.51 480.9,386.32 481.4,385.02 481.9,384.77 482.4,382.95 482.9,384.06 483.4,383.74 483.9,384.98 484.4,383.42 484.9,383.61 485.4,383.28 485.9,383.67 486.4,384.29 486.9,385.26 487.4,385.26 487.9,385.24 488.4,384.12 488.9,384.65 489.4,384.46 489.9,384.58 490.4,384.34 490.9,384.35 491.4,384.72 491.9,384.89 492.4,384.74 492.9,384.54 493.4,384.73 493.9,383.97 494.4,384.15 494.9,384.65 495.4,384.1 495.9,383.68 496.4,383.5 496.9,383.79 497.4,385.56 497.9,384.32 498.4,385.66 498.9,385.14 499.4,386.41 499.9,387.4 500.4,385.19 500.9,384.45 501.4,384.86 501.9,384.51 502.4,384.67 502.9,384.35 503.4,384.45 503.9,384.52 504.4,384.06 504.9,384.18 505.4,387.07 505.9,385.46 506.4,387.04 506.9,384.2 507.4,383.36 507.9,383.49 508.4,383.35 508.9,383.63 509.4,384.34 509.9,384.19 510.4,384.91 510.9,384.28 511.4,384.55 511.9,384.01 512.4,383.38 512.9,382.42 513.4,383.13 513.9,383.89 514.4,385.44 514.9,385.48 515.4,385.03 515.9,384.03 516.4,383.56 516.9,383.66 517.4,384.71 517.9,385.34 518.4,384.94 518.9,383.86 519.4,383.97 519.9,384.45 520.4,384.68 520.9,384.95 521.4,384.9 521.9,384.91 522.4,384.14 522.9,383.35 523.4,383.78 523.9,383.23 524.4,383.7 524.9,382.73 525.4,383.95 525.9,384.45 526.4,384.86 526.9,383.57 527.4,383.95 527.9,383.08 528.4,384.02 528.9,384.17 529.4,384.62 529.9,385.42 530.4,383.01 530.9,386.35 531.4,385.75 531.9,385.41 532.4,385.53 532.9,386.22 533.4,385.73 533.9,385.26 534.4,385.13 534.9,386.44 535.4,386.16 535.9,385.66 536.4,384.22 536.9,384.76 537.4,385.75 537.9,385.76 538.4,384.87 538.9,384.39 539.4,384.05 539.9,377.04 540.4,367.36 540.9,357.11 541.4,345.81 541.9,344.18 542.4,345.73 542.9,351.85 543.4,356.79 543.9,361.99 544.4,366.22 544.9,371.73 545.4,374.71 545.9,375.9 546.4,377.95 546.9,378.95 547.4,379.67 547.9,381.26 548.4,381.75 548.9,381.89 549.4,381.5 549.9,382.69 550.4,384.31 550.9,384.42 551.4,384.97 551.9,384.43 552.4,385.18 552.9,384.13 553.4,384.03 553.9,384.88 554.4,385.25 554.9,385.42 555.4,385.69 555.9,385.65 556.4,388.31 556.9,385.18 557.4,383.82 557.9,383.74 558.4,383.81 558.9,383.93 559.4,383.82 559.9,384.61 560.4,384.65 560.9,385.79 561.4,384.9 561.9,385.44 562.4,385.57 562.9,386.35 563.4,385.88 563.9,385.03 564.4,385.95 564.9,385.31 565.4,385.38 565.9,384.31 566.4,384.74 566.9,385.07 567.4,385.15 567.9,384.7 568.4,384.88 568.9,384.34 569.4,384.73 569.9,384.59 570.4,382.51 570.9,384.57 571.4,385.48 571.9,385.25 572.4,385.15 572.9,385.2 573.4,384.63 573.9,385.89 574.4,384.73 574.9,385.14 575.4,382.17 575.9,384.31 576.4,384.06 576.9,384.78 577.4,384.18 577.9,384.15 578.4,383.62 578.9,384.14 579.4,383.45 579.9,383.94 580.4,384.01 580.9,386.19 581.4,385.29 581.9,385.85 582.4,384.46 582.9,384.24 583.4,384.42 583.9,384.38 584.4,384.02 584.9,383.32 585.4,383.82 585.9,384.27 586.4,383.88 586.9,380.32 587.4,381.98 587.9,382.67 588.4,382.13 588.9,381.87 589.4,382.67 589.9,383.41 590.4,384.29 590.9,384.41 591.4,385.39 591.9,385.11 592.4,386.34 592.9,386.05 593.4,386.61 593.9,385.27 594.4,383.28 594.9,383.35 595.4,383.43 595.9,385.52 596.4,385.17 596.9,386.29 597.4,385.28 597.9,386.59 598.4,384.01 598.9,384.54 599.4,383.77 599.9,385.28 600.4,385.06 600.9,384.7 601.4,383.19 601.9,385.17 602.4,385.63 602.9,385.41 603.4,385.39 603.9,385.12 604.4,383.31 604.9,382.24 605.4,382.92 605.9,383.99 606.4,384.82 606.9,384.04 607.4,383.35 607.9,383.19 608.4,383.52 608.9,383.5 609.4,384.63 609.9,384.6 610.4,384.25 610.9,382.36 611.4,381.8 611.9,382.44 612.4,383.57 612.9,383.69 613.4,383.29 613.9,382.98 614.4,382.79 614.9,383.27 615.4,383.59 615.9,384.72 616.4,384.03 616.9,384.35 617.4,383.91 617.9,384.29 618.4,383.37 618.9,382.28 619.4,382.67 619.9,383.42 620.4,383.49 620.9,383.39 621.4,383.52 621.9,383.32 622.4,382.91 622.9,385.06 623.4,382.51 623.9,382.65 624.4,382.99 624.9,383.14 625.4,376.97 625.9,366.99 626.4,357.83 626.9,343.25 627.4,342.01 627.9,345.2 628.4,350.7 628.9,357.11 629.4,362.73 629.9,368.1 630.4,372.8 630.9,374.55 631.4,375.39 631.9,376.4 632.4,377.51 632.9,378.83 633.4,382.61 633.9,381.24 634.4,381.42 634.9,382.13 635.4,381.38 635.9,381.58 636.4,382.49 636.9,382.63 637.4,383.85 637.9,383.74 638.4,384.37 638.9,383.97 639.4,383.2 639.9,382.89 640.4,383 640.9,384.25 641.4,383.66 641.9,382.06 642.4,384.88 642.9,385.17 643.4,384.55 643.9,384.33 644.4,384.36 644.9,384.27 645.4,383.72 645.9,383.55 646.4,384.45 646.9,384.3 647.4,383.69 647.9,382.16 648.4,381.3 648.9,382.1 649.4,382.24 649.9,383.2 650.4,383.42 650.9,384.71 651.4,384.14 651.9,383.67 652.4,382.77 652.9,383.41 653.4,383.36 653.9,383.09 654.4,384 654.9,384.3 655.4,384.45 655.9,384.51 656.4,387.37 656.9,384.75 657.4,384.35 657.9,385 658.4,385.18 658.9,385.28 659.4,384.06 659.9,383.54 660.4,382.86 660.9,383.15 661.4,383.38 661.9,380.62 662.4,382.73 662.9,382.89 663.4,384.15 663.9,383.53 664.4,383.87 664.9,383.7 665.4,383.64 665.9,382.46 666.4,382.9 666.9,384.03 667.4,385.23 667.9,385.37 668.4,382.62 668.9,383.23 669.4,385.63 669.9,383.04 670.4,382.65 670.9,383.43 671.4,383.57 671.9,383.76 672.4,383.62 672.9,382.5 673.4,381.89 673.9,381.36 674.4,382.43 674.9,386.35 675.4,383.71 675.9,383.59 676.4,382.69 676.9,383.31 677.4,382.53 677.9,382.66 678.4,382.37 678.9,382.18 679.4,382.5 679.9,381.52 680.4,381.9 680.9,382.13 681.4,382.9 681.9,382.65 682.4,383.51 682.9,383.8 683.4,384.13 683.9,384.27 684.4,384.95 684.9,385.7 685.4,384.08 685.9,382.64 686.4,382.88 686.9,383.77 687.4,384.76 687.9,384.21 688.4,384.22 688.9,382.99 689.4,384.15 689.9,383.19 690.4,383.77 690.9,382.47 691.4,381.65 691.9,380.52 692.4,380.8 692.9,381.12 693.4,384.4 693.9,383.67 694.4,384 694.9,383.01 695.4,382.68 695.9,382.06 696.4,383.51 696.9,384.16 697.4,385.16 697.9,384.49 698.4,383.53 698.9,383.02 699.4,382.2 699.9,383.18 700.4,383.14 700.9,383.2 701.4,382.8 701.9,383.55 702.4,383.66 702.9,383.36 703.4,382.2 703.9,381.94 704.4,382.14 704.9,380.39 705.4,383.52 705.9,382.75 706.4,382.44 706.9,381.94 707.4,382.79 707.9,383.05 708.4,382.36 708.9,382.88 709.4,382.77 709.9,382.91 710.4,382.73 710.9,383.13" fill="none" stroke="#00be00" stroke-width="3.1" stroke-linejoin="round" stroke-linecap="round"/>
<polyline points="711,383 711.9,381 712.6,340 713.4,300 714.3,272 715.2,260 716.2,257.5 717.2,258.5 718.2,255.2 719.4,256" fill="none" stroke="#00be00" stroke-width="2.8" stroke-linejoin="round" stroke-linecap="round"/>
<polyline points="172.8,617.24 173.3,617.66 173.8,618.21 174.3,618.44 174.8,617.24 175.3,617.01 175.8,617.82 176.3,619.22 176.8,620.08 177.3,619.53 177.8,618.68 178.3,617.15 178.8,617.21 179.3,617.95 179.8,618.24 180.3,617.59 180.8,617.53 181.3,616.63 181.8,618.83 182.3,616.94 182.8,619.15 183.3,619.48 183.8,621.06 184.3,617.97 184.8,617.26 185.3,615.2 185.8,616.25 186.3,616.32 186.8,619.09 187.3,618.48 187.8,619.18 188.3,617.56 188.8,617.8 189.3,617.25 189.8,618.02 190.3,616.27 190.8,616.84 191.3,617.37 191.8,618.43 192.3,618.31 192.8,618.07 193.3,618.48 193.8,618.62 194.3,619.12 194.8,618.5 195.3,618.47 195.8,617.72 196.3,616.56 196.8,616.86 197.3,617.15 197.8,618.78 198.3,618.75 198.8,618.02 199.3,617.04 199.8,611.09 200.3,600.76 200.8,588.37 201.3,574.14 201.8,573.1 202.3,575 202.8,579.2 203.3,583.25 203.8,585.94 204.3,589.18 204.8,592.01 205.3,595.28 205.8,598.49 206.3,600.45 206.8,602.1 207.3,604.8 207.8,607.86 208.3,609.19 208.8,609.32 209.3,609.93 209.8,611.16 210.3,614 210.8,614.04 211.3,615 211.8,614.94 212.3,615.35 212.8,613.54 213.3,613.41 213.8,612.96 214.3,614.19 214.8,614.78 215.3,615.05 215.8,617.07 216.3,616.82 216.8,616.86 217.3,616.07 217.8,616.17 218.3,616.83 218.8,616.99 219.3,617.29 219.8,619 220.3,618.79 220.8,618.87 221.3,617.81 221.8,616.94 222.3,616.13 222.8,616.25 223.3,616.97 223.8,618.27 224.3,617.07 224.8,616.68 225.3,615.55 225.8,617.44 226.3,617.42 226.8,618.33 227.3,617.14 227.8,617.95 228.3,618.49 228.8,619.56 229.3,618.13 229.8,619.01 230.3,618.98 230.8,620.3 231.3,620.51 231.8,620.21 232.3,620.07 232.8,619.63 233.3,619.91 233.8,620 234.3,622.69 234.8,619.06 235.3,619.26 235.8,619.88 236.3,619.65 236.8,620.23 237.3,617.16 237.8,619.61 238.3,619.53 238.8,619.99 239.3,619.07 239.8,618.92 240.3,619.66 240.8,619.51 241.3,616.18 241.8,618.45 242.3,618.31 242.8,617.96 243.3,618.49 243.8,618.07 244.3,617.92 244.8,617.63 245.3,618.04 245.8,618.7 246.3,619.75 246.8,619.22 247.3,619.24 247.8,619.52 248.3,617.98 248.8,619.59 249.3,620.49 249.8,620.38 250.3,620.35 250.8,619.04 251.3,619.67 251.8,619.28 252.3,619.81 252.8,619.22 253.3,619.32 253.8,618.46 254.3,618.08 254.8,617.89 255.3,617.92 255.8,620.93 256.3,621.15 256.8,620.8 257.3,618.33 257.8,618.65 258.3,617.63 258.8,617.94 259.3,617.91 259.8,618.35 260.3,619.68 260.8,619.38 261.3,620.34 261.8,619.58 262.3,618.45 262.8,618.09 263.3,618.35 263.8,619 264.3,619.89 264.8,619.83 265.3,619.1 265.8,618.67 266.3,617.59 266.8,618.08 267.3,618.94 267.8,619.97 268.3,619.17 268.8,618.15 269.3,618.09 269.8,619.11 270.3,618.38 270.8,617.59 271.3,616.68 271.8,618.27 272.3,618.25 272.8,618.63 273.3,617.68 273.8,619.13 274.3,619 274.8,619.41 275.3,615.74 275.8,618.43 276.3,619 276.8,619.09 277.3,618.8 277.8,618.05 278.3,618.32 278.8,617.7 279.3,617.73 279.8,617.99 280.3,618.5 280.8,619.47 281.3,620.32 281.8,621.02 282.3,622.17 282.8,620.29 283.3,619.14 283.8,618.5 284.3,618.36 284.8,619.33 285.3,620.36 285.8,619.79 286.3,618.29 286.8,617.41 287.3,609.82 287.8,600.27 288.3,585.9 288.8,573.76 289.3,573.48 289.8,575.9 290.3,580.42 290.8,584.09 291.3,586.64 291.8,590.21 292.3,593.23 292.8,595.42 293.3,597.32 293.8,597.75 294.3,599.18 294.8,600.9 295.3,603.35 295.8,604.69 296.3,605.74 296.8,607.02 297.3,608.63 297.8,610.11 298.3,610.64 298.8,611.04 299.3,612.16 299.8,612.62 300.3,612.33 300.8,612.36 301.3,612.34 301.8,612.64 302.3,612.6 302.8,613.17 303.3,613.11 303.8,614.25 304.3,614.12 304.8,614.72 305.3,614.62 305.8,614.41 306.3,615.07 306.8,614.79 307.3,614.36 307.8,613.94 308.3,612.08 308.8,615.54 309.3,614.84 309.8,613.64 310.3,612.66 310.8,612.85 311.3,612.82 311.8,614.56 312.3,613.96 312.8,614.53 313.3,613.57 313.8,614.59 314.3,613.79 314.8,613.52 315.3,614.24 315.8,615.41 316.3,615.06 316.8,616.07 317.3,615.86 317.8,617.92 318.3,617.52 318.8,618.19 319.3,617.96 319.8,618.54 320.3,617.4 320.8,616.62 321.3,616.8 321.8,616.8 322.3,618.22 322.8,617.05 323.3,616.4 323.8,615.57 324.3,615.97 324.8,616.1 325.3,617 325.8,618.5 326.3,618.21 326.8,618.2 327.3,618.53 327.8,619.16 328.3,619.03 328.8,618.87 329.3,618.07 329.8,617.94 330.3,618.64 330.8,618.89 331.3,620.15 331.8,619.52 332.3,618.01 332.8,616.86 333.3,617.3 333.8,618.54 334.3,618.69 334.8,617.9 335.3,618.3 335.8,617.66 336.3,618.03 336.8,616.9 337.3,616.7 337.8,616.92 338.3,615.93 338.8,616.39 339.3,616.09 339.8,617.14 340.3,618.08 340.8,618.2 341.3,618.01 341.8,618.73 342.3,618.88 342.8,619.1 343.3,617.44 343.8,617.2 344.3,617.51 344.8,617.93 345.3,620.11 345.8,617.16 346.3,617.06 346.8,616.04 347.3,616.12 347.8,615.6 348.3,615.9 348.8,615.8 349.3,615.2 349.8,614.95 350.3,616.18 350.8,616.61 351.3,617.96 351.8,617.25 352.3,617.28 352.8,617.36 353.3,618.24 353.8,619 354.3,619.04 354.8,618.69 355.3,617.62 355.8,616.46 356.3,613.36 356.8,615.41 357.3,617.64 357.8,618.4 358.3,618.61 358.8,619.02 359.3,618.69 359.8,618.53 360.3,618.56 360.8,618.52 361.3,619.25 361.8,616.72 362.3,616.19 362.8,616.66 363.3,616.62 363.8,616.88 364.3,617.56 364.8,618.11 365.3,616.45 365.8,618.67 366.3,617.86 366.8,616.83 367.3,617.02 367.8,617.77 368.3,619.68 368.8,619.48 369.3,619.29 369.8,617.77 370.3,618.01 370.8,617.91 371.3,617.36 371.8,617.6 372.3,604.07 372.8,581.04 373.3,550.23 373.8,519 374.3,515.51 374.8,519.16 375.3,526.09 375.8,534.22 376.3,542.33 376.8,552.72 377.3,559.21 377.8,564.42 378.3,568.7 378.8,573.03 379.3,576.95 379.8,581.85 380.3,584.94 380.8,587.83 381.3,593.07 381.8,594.18 382.3,595.81 382.8,598.65 383.3,599.82 383.8,601.91 384.3,602.77 384.8,604.29 385.3,605.04 385.8,605.78 386.3,606.5 386.8,607.61 387.3,608.53 387.8,608.41 388.3,608.48 388.8,608.12 389.3,607.72 389.8,607.22 390.3,607 390.8,607.65 391.3,607.91 391.8,608.51 392.3,607.57 392.8,607.83 393.3,607.61 393.8,607.48 394.3,607.46 394.8,607.95 395.3,607.66 395.8,608.63 396.3,607.95 396.8,607.71 397.3,607.62 397.8,608.46 398.3,608.64 398.8,608.61 399.3,608.13 399.8,606.49 400.3,607.93 400.8,608.41 401.3,608.1 401.8,609.56 402.3,610.34 402.8,610.22 403.3,610.89 403.8,610.69 404.3,609.73 404.8,607.99 405.3,609.42 405.8,611.02 406.3,612.19 406.8,610.51 407.3,610.17 407.8,611.17 408.3,611.25 408.8,612.67 409.3,611.85 409.8,610.85 410.3,610.32 410.8,610.65 411.3,612.16 411.8,612.14 412.3,611.85 412.8,612.32 413.3,612.1 413.8,611.85 414.3,611.82 414.8,611.9 415.3,613.04 415.8,613.13 416.3,612.93 416.8,612.69 417.3,612.88 417.8,612.2 418.3,612.59 418.8,612.28 419.3,613.32 419.8,612.24 420.3,612.37 420.8,612.03 421.3,611.85 421.8,611.52 422.3,611.04 422.8,612.15 423.3,611.85 423.8,612.35 424.3,611.31 424.8,613.57 425.3,612.62 425.8,611.68 426.3,611.97 426.8,612.75 427.3,613.06 427.8,613.38 428.3,613.64 428.8,613.11 429.3,612.6 429.8,612.46 430.3,612.5 430.8,612.79 431.3,613.29 431.8,613.03 432.3,612.79 432.8,612.81 433.3,612.24 433.8,612.29 434.3,611.51 434.8,612.2 435.3,612.23 435.8,612.53 436.3,612.33 436.8,612.89 437.3,613.33 437.8,612.97 438.3,612.59 438.8,611.85 439.3,613.58 439.8,612.89 440.3,613.37 440.8,612.71 441.3,613.2 441.8,613.36 442.3,614.25 442.8,614.52 443.3,614.91 443.8,614.65 444.3,615.84 444.8,614.3 445.3,613.8 445.8,614.8 446.3,611.27 446.8,613.73 447.3,613.4 447.8,613.8 448.3,614.85 448.8,614.9 449.3,614.84 449.8,614.13 450.3,614.81 450.8,615.72 451.3,616.47 451.8,616.55 452.3,616.75 452.8,616.02 453.3,615.36 453.8,614.06 454.3,615.07 454.8,616.27 455.3,617.21 455.8,616.87 456.3,615.76 456.8,615.47 457.3,615.51 457.8,615.24 458.3,599.94 458.8,574 459.3,541.21 459.8,507.51 460.3,505.98 460.8,507.96 461.3,517.18 461.8,526.38 462.3,536.32 462.8,546.35 463.3,553.7 463.8,559.06 464.3,564.25 464.8,568.8 465.3,572.73 465.8,577.38 466.3,581.58 466.8,585.41 467.3,586.02 467.8,591.05 468.3,593 468.8,593.67 469.3,597.15 469.8,597.07 470.3,597.83 470.8,599.37 471.3,600.43 471.8,600.88 472.3,601.39 472.8,603.47 473.3,603.31 473.8,603.05 474.3,604.02 474.8,603.79 475.3,604.61 475.8,605.13 476.3,606.02 476.8,606.21 477.3,606.41 477.8,605.1 478.3,603.4 478.8,605.54 479.3,606.02 479.8,606.52 480.3,606.56 480.8,607.35 481.3,606.99 481.8,605.91 482.3,605.63 482.8,605.54 483.3,605.41 483.8,605.99 484.3,605.98 484.8,607.15 485.3,606.62 485.8,607.24 486.3,607.27 486.8,607.95 487.3,607.5 487.8,606.57 488.3,607.67 488.8,607.1 489.3,607.27 489.8,606.5 490.3,606.86 490.8,608.6 491.3,608.61 491.8,608.78 492.3,607.82 492.8,609.4 493.3,609.74 493.8,611.41 494.3,609.6 494.8,609.36 495.3,607.97 495.8,608.68 496.3,608.66 496.8,608.5 497.3,607.49 497.8,606.57 498.3,606.99 498.8,607.34 499.3,607.84 499.8,607.34 500.3,607.92 500.8,608.86 501.3,609.35 501.8,608.85 502.3,608.66 502.8,609.23 503.3,608.96 503.8,609.01 504.3,609.49 504.8,609.98 505.3,609.59 505.8,609.76 506.3,611.13 506.8,611.12 507.3,609.87 507.8,609.32 508.3,609.15 508.8,609.45 509.3,609.02 509.8,609.14 510.3,609.38 510.8,608.48 511.3,608.87 511.8,608.31 512.3,610.21 512.8,611.18 513.3,613.05 513.8,611.88 514.3,611.48 514.8,611.55 515.3,612.05 515.8,611.66 516.3,610.57 516.8,610.24 517.3,609.71 517.8,609.57 518.3,608.29 518.8,609.26 519.3,610.04 519.8,610.03 520.3,611 520.8,611.34 521.3,612.16 521.8,610.95 522.3,609.88 522.8,610.66 523.3,610.34 523.8,609.64 524.3,609.43 524.8,608.49 525.3,608.99 525.8,609.49 526.3,610.76 526.8,611.15 527.3,610.75 527.8,610.65 528.3,611.92 528.8,609.81 529.3,609.3 529.8,609.63 530.3,610.89 530.8,611.72 531.3,612.21 531.8,611.1 532.3,610.03 532.8,609.52 533.3,610.79 533.8,611.46 534.3,611.42 534.8,610.35 535.3,610.67 535.8,610.39 536.3,610.5 536.8,610.17 537.3,610.76 537.8,610.45 538.3,611.62 538.8,611.61 539.3,614.06 539.8,611.24 540.3,610.87 540.8,610.52 541.3,610.56 541.8,609.92 542.3,611 542.8,611.01 543.3,611.67 543.8,611.68 544.3,597.99 544.8,582.37 545.3,559.02 545.8,543.46 546.3,542.99 546.8,546.42 547.3,553.3 547.8,558.19 548.3,564.32 548.8,569.51 549.3,573.16 549.8,576.31 550.3,579.4 550.8,582.94 551.3,585.06 551.8,589.56 552.3,591.57 552.8,592.52 553.3,592.35 553.8,594.09 554.3,596.81 554.8,599.14 555.3,599.44 555.8,600.39 556.3,600.43 556.8,600.37 557.3,600.26 557.8,600.42 558.3,601.88 558.8,603.03 559.3,603.8 559.8,603.77 560.3,603.93 560.8,605.19 561.3,606.32 561.8,604.93 562.3,604.52 562.8,604.85 563.3,605.57 563.8,605.81 564.3,606.59 564.8,607.18 565.3,608 565.8,608.9 566.3,608.77 566.8,608.2 567.3,609.36 567.8,608.85 568.3,609.29 568.8,608.61 569.3,609.29 569.8,609.26 570.3,608.6 570.8,608.85 571.3,609 571.8,606.31 572.3,608.58 572.8,607.94 573.3,605.88 573.8,607.62 574.3,607.57 574.8,608.08 575.3,609.03 575.8,610.54 576.3,611.11 576.8,609.68 577.3,609.6 577.8,610.93 578.3,609.29 578.8,609.75 579.3,609.9 579.8,610.15 580.3,609.59 580.8,609.69 581.3,608.54 581.8,608.39 582.3,608.11 582.8,608.78 583.3,609.06 583.8,608.86 584.3,608.1 584.8,606.99 585.3,607.4 585.8,606.93 586.3,607.2 586.8,607.82 587.3,607.73 587.8,608.13 588.3,608.4 588.8,608.52 589.3,608.61 589.8,612.24 590.3,610.83 590.8,610.35 591.3,609.04 591.8,608.19 592.3,608.5 592.8,609.33 593.3,608.86 593.8,610.32 594.3,608.8 594.8,608.24 595.3,607.75 595.8,609.54 596.3,610.69 596.8,610.12 597.3,612.33 597.8,610.44 598.3,611.06 598.8,610.26 599.3,610.03 599.8,610.43 600.3,610.66 600.8,611.11 601.3,610.63 601.8,610.15 602.3,609.34 602.8,609.76 603.3,612.07 603.8,610.46 604.3,610.87 604.8,611.56 605.3,612.25 605.8,610.91 606.3,610.91 606.8,609.64 607.3,611.88 607.8,608.78 608.3,609.64 608.8,610.72 609.3,610.54 609.8,609.52 610.3,608.54 610.8,608.9 611.3,610.21 611.8,609.31 612.3,608.34 612.8,607.83 613.3,608.49 613.8,609.27 614.3,609.96 614.8,611.03 615.3,610.71 615.8,609.89 616.3,607.75 616.8,608.68 617.3,609.34 617.8,609.59 618.3,610.46 618.8,610.28 619.3,610.85 619.8,610.85 620.3,610.08 620.8,609.21 621.3,608.19 621.8,608.03 622.3,608.63 622.8,609.55 623.3,611.24 623.8,611.06 624.3,610.99 624.8,609.49 625.3,609.83 625.8,610.4 626.3,610.53 626.8,610.63 627.3,610.19 627.8,609.47 628.3,609.33 628.8,609.26 629.3,610.09" fill="none" stroke="#ff0000" stroke-width="3.1" stroke-linejoin="round" stroke-linecap="round"/>
<polyline points="502.6,611 503.5,592.5 504.1,592.5 505,611" fill="none" stroke="#ff0000" stroke-width="2.4" stroke-linejoin="round" stroke-linecap="round"/>
<polyline points="614,610 614.9,599.8 615.5,599.8 616.4,610" fill="none" stroke="#ff0000" stroke-width="2.4" stroke-linejoin="round" stroke-linecap="round"/>
<polyline points="621.6,610 622.5,596.8 623.1,596.8 624,610" fill="none" stroke="#ff0000" stroke-width="2.4" stroke-linejoin="round" stroke-linecap="round"/>
<polyline points="663.4,201 664.3,188.5 664.9,188.5 665.8,201" fill="none" stroke="#000" stroke-width="2.4" stroke-linejoin="round" stroke-linecap="round"/>
<polyline points="629.6,610 630.4,607 631,560 631.6,500 632.3,460 633,440 633.6,437.2 634.6,438.5 635.4,442 636.4,441 637.5,443 638.5,449 639.5,456 640.5,453 641.5,450 642.5,455 643.6,460 644.6,455 646,453 647.5,455 649,457 650,458.3" fill="none" stroke="#ff0000" stroke-width="2.8" stroke-linejoin="round" stroke-linecap="round"/>
<line x1="249.5" y1="651.5" x2="251" y2="654.5" stroke="#333" stroke-width="1.2" />
<line x1="157.6" y1="836" x2="157.6" y2="1395" stroke="#000" stroke-width="3.4" />
<line x1="141.3" y1="868.3" x2="157.6" y2="868.3" stroke="#000" stroke-width="3.3" />
<text x="133.4" y="878.1" font-size="29.3" text-anchor="end" font-weight="normal" fill="#1a1a1a" >25</text>
<line x1="141.3" y1="933.9" x2="157.6" y2="933.9" stroke="#000" stroke-width="3.3" />
<text x="133.4" y="943.7" font-size="29.3" text-anchor="end" font-weight="normal" fill="#1a1a1a" >20</text>
<line x1="141.3" y1="999.5" x2="157.6" y2="999.5" stroke="#000" stroke-width="3.3" />
<text x="133.4" y="1009.3" font-size="29.3" text-anchor="end" font-weight="normal" fill="#1a1a1a" >15</text>
<line x1="141.3" y1="1065.1" x2="157.6" y2="1065.1" stroke="#000" stroke-width="3.3" />
<text x="133.4" y="1074.9" font-size="29.3" text-anchor="end" font-weight="normal" fill="#1a1a1a" >10</text>
<line x1="141.3" y1="1130.7" x2="157.6" y2="1130.7" stroke="#000" stroke-width="3.3" />
<text x="134.2" y="1140.5" font-size="29.3" text-anchor="end" font-weight="normal" fill="#1a1a1a" >5</text>
<line x1="141.3" y1="1196.3" x2="157.6" y2="1196.3" stroke="#000" stroke-width="3.3" />
<text x="134.2" y="1206.1" font-size="29.3" text-anchor="end" font-weight="normal" fill="#1a1a1a" >0</text>
<line x1="141.3" y1="1261.9" x2="157.6" y2="1261.9" stroke="#000" stroke-width="3.3" />
<text x="133.4" y="1271.7" font-size="29.3" text-anchor="end" font-weight="normal" fill="#1a1a1a" >-5</text>
<line x1="141.3" y1="1327.5" x2="157.6" y2="1327.5" stroke="#000" stroke-width="3.3" />
<text x="132.6" y="1337.3" font-size="29.3" text-anchor="end" font-weight="normal" fill="#1a1a1a" >-10</text>
<line x1="141.3" y1="1393.1" x2="157.6" y2="1393.1" stroke="#000" stroke-width="3.3" />
<text x="132.6" y="1402.9" font-size="29.3" text-anchor="end" font-weight="normal" fill="#1a1a1a" >-15</text>
<line x1="156" y1="1393.4" x2="797.7" y2="1393.4" stroke="#000" stroke-width="3.4" />
<line x1="215.8" y1="1393.4" x2="215.8" y2="1410.5" stroke="#000" stroke-width="3.3" />
<text transform="translate(215.3,1442.6) scale(1,1.07)" font-size="28.6" text-anchor="middle" font-weight="normal" fill="#1a1a1a" >2</text>
<line x1="413.6" y1="1393.4" x2="413.6" y2="1410.5" stroke="#000" stroke-width="3.3" />
<text transform="translate(411.4,1442.6) scale(1,1.07)" font-size="28.6" text-anchor="middle" font-weight="normal" fill="#1a1a1a" >4</text>
<line x1="611.4" y1="1393.4" x2="611.4" y2="1410.5" stroke="#000" stroke-width="3.3" />
<text transform="translate(610.9,1442.6) scale(1,1.07)" font-size="28.6" text-anchor="middle" font-weight="normal" fill="#1a1a1a" >6</text>
<text transform="translate(425.2,1487.1) scale(1,1.04)" font-size="31.8" text-anchor="middle" font-weight="normal" fill="#1a1a1a" >Time (min)</text>
<line x1="159.2" y1="1196.2" x2="797.8" y2="1196.2" stroke="#999" stroke-width="2.4" stroke-dasharray="6 3.35" stroke-dashoffset="3.1"/>
<text transform="translate(54.4,1128.6) rotate(-90)" font-size="32.2" text-anchor="middle" fill="#1a1a1a">Inhibition of K<tspan font-size="15" dy="-16.5">+</tspan><tspan dy="16.5"> response (%)</tspan></text>
<text x="427.4" y="859.3" font-size="32.3" text-anchor="middle" font-weight="bold" fill="#000" >20:4-NAPE</text>
<path d="M215.8,1170.9 L413.6,1135.9 L611.4,1122.5" fill="none" stroke="#000" stroke-width="2.8"/>
<path d="M215.8,1154.8 L413.6,1080.2 L611.4,1089.5" fill="none" stroke="#0000ff" stroke-width="2.8"/>
<path d="M215.8,1008.2 L413.6,945.3 L611.4,983" fill="none" stroke="#00be00" stroke-width="2.8"/>
<path d="M215.8,1109.9 L413.6,1004.5 L611.4,952.3" fill="none" stroke="#aa00dc" stroke-width="2.8"/>
<path d="M215.8,1333 L413.6,1302.7 L611.4,1219.9" fill="none" stroke="#ff0000" stroke-width="2.8"/>
<circle cx="215.8" cy="1170.9" r="7.8" fill="#fff" stroke="#000" stroke-width="3.2"/>
<line x1="413.6" y1="1127.05" x2="413.6" y2="1144.75" stroke="#000" stroke-width="3" />
<line x1="405.5" y1="1127.05" x2="421.7" y2="1127.05" stroke="#000" stroke-width="3" />
<line x1="405.5" y1="1144.75" x2="421.7" y2="1144.75" stroke="#000" stroke-width="3" />
<circle cx="413.6" cy="1135.9" r="7.8" fill="#fff" stroke="#000" stroke-width="3.2"/>
<line x1="611.4" y1="1111.85" x2="611.4" y2="1133.15" stroke="#000" stroke-width="3" />
<line x1="603.3" y1="1111.85" x2="619.5" y2="1111.85" stroke="#000" stroke-width="3" />
<line x1="603.3" y1="1133.15" x2="619.5" y2="1133.15" stroke="#000" stroke-width="3" />
<circle cx="611.4" cy="1122.5" r="7.8" fill="#fff" stroke="#000" stroke-width="3.2"/>
<rect x="207.9" y="1146.9" width="15.8" height="15.8" fill="#fff" stroke="#0000ff" stroke-width="3.2"/>
<line x1="413.6" y1="1070.2" x2="413.6" y2="1090.2" stroke="#0000ff" stroke-width="3" />
<line x1="405.5" y1="1070.2" x2="421.7" y2="1070.2" stroke="#0000ff" stroke-width="3" />
<line x1="405.5" y1="1090.2" x2="421.7" y2="1090.2" stroke="#0000ff" stroke-width="3" />
<rect x="405.7" y="1072.3" width="15.8" height="15.8" fill="#fff" stroke="#0000ff" stroke-width="3.2"/>
<line x1="611.4" y1="1079.3" x2="611.4" y2="1099.7" stroke="#0000ff" stroke-width="3" />
<line x1="603.3" y1="1079.3" x2="619.5" y2="1079.3" stroke="#0000ff" stroke-width="3" />
<line x1="603.3" y1="1099.7" x2="619.5" y2="1099.7" stroke="#0000ff" stroke-width="3" />
<rect x="603.5" y="1081.6" width="15.8" height="15.8" fill="#fff" stroke="#0000ff" stroke-width="3.2"/>
<line x1="215.8" y1="994.95" x2="215.8" y2="1021.45" stroke="#00be00" stroke-width="3" />
<line x1="207.7" y1="994.95" x2="223.9" y2="994.95" stroke="#00be00" stroke-width="3" />
<line x1="207.7" y1="1021.45" x2="223.9" y2="1021.45" stroke="#00be00" stroke-width="3" />
<path d="M215.8,1001.2 L223.8,1015.5 L207.8,1015.5 Z" fill="#fff" stroke="#00be00" stroke-width="3.2" stroke-linejoin="miter"/>
<line x1="413.6" y1="931" x2="413.6" y2="959.6" stroke="#00be00" stroke-width="3" />
<line x1="405.5" y1="931" x2="421.7" y2="931" stroke="#00be00" stroke-width="3" />
<line x1="405.5" y1="959.6" x2="421.7" y2="959.6" stroke="#00be00" stroke-width="3" />
<path d="M413.6,938.3 L421.6,952.6 L405.6,952.6 Z" fill="#fff" stroke="#00be00" stroke-width="3.2" stroke-linejoin="miter"/>
<line x1="611.4" y1="970.05" x2="611.4" y2="995.95" stroke="#00be00" stroke-width="3" />
<line x1="603.3" y1="970.05" x2="619.5" y2="970.05" stroke="#00be00" stroke-width="3" />
<line x1="603.3" y1="995.95" x2="619.5" y2="995.95" stroke="#00be00" stroke-width="3" />
<path d="M611.4,976 L619.4,990.3 L603.4,990.3 Z" fill="#fff" stroke="#00be00" stroke-width="3.2" stroke-linejoin="miter"/>
<line x1="215.8" y1="1101" x2="215.8" y2="1118.8" stroke="#aa00dc" stroke-width="3" />
<line x1="207.7" y1="1101" x2="223.9" y2="1101" stroke="#aa00dc" stroke-width="3" />
<line x1="207.7" y1="1118.8" x2="223.9" y2="1118.8" stroke="#aa00dc" stroke-width="3" />
<path d="M215.8,1116.7 L223.8,1102.3 L207.8,1102.3 Z" fill="#fff" stroke="#aa00dc" stroke-width="3.2" stroke-linejoin="miter"/>
<line x1="413.6" y1="995.5" x2="413.6" y2="1013.5" stroke="#aa00dc" stroke-width="3" />
<line x1="405.5" y1="995.5" x2="421.7" y2="995.5" stroke="#aa00dc" stroke-width="3" />
<line x1="405.5" y1="1013.5" x2="421.7" y2="1013.5" stroke="#aa00dc" stroke-width="3" />
<path d="M413.6,1011.3 L421.6,996.9 L405.6,996.9 Z" fill="#fff" stroke="#aa00dc" stroke-width="3.2" stroke-linejoin="miter"/>
<line x1="611.4" y1="938.6" x2="611.4" y2="966" stroke="#aa00dc" stroke-width="3" />
<line x1="603.3" y1="938.6" x2="619.5" y2="938.6" stroke="#aa00dc" stroke-width="3" />
<line x1="603.3" y1="966" x2="619.5" y2="966" stroke="#aa00dc" stroke-width="3" />
<path d="M611.4,959.1 L619.4,944.7 L603.4,944.7 Z" fill="#fff" stroke="#aa00dc" stroke-width="3.2" stroke-linejoin="miter"/>
<line x1="215.8" y1="1319.65" x2="215.8" y2="1346.35" stroke="#ff0000" stroke-width="3" />
<line x1="207.7" y1="1319.65" x2="223.9" y2="1319.65" stroke="#ff0000" stroke-width="3" />
<line x1="207.7" y1="1346.35" x2="223.9" y2="1346.35" stroke="#ff0000" stroke-width="3" />
<path d="M215.8,1325 L223.8,1333 L215.8,1341 L207.8,1333 Z" fill="#fff" stroke="#ff0000" stroke-width="3.2" stroke-linejoin="miter"/>
<line x1="413.6" y1="1283.2" x2="413.6" y2="1322.2" stroke="#ff0000" stroke-width="3" />
<line x1="405.5" y1="1283.2" x2="421.7" y2="1283.2" stroke="#ff0000" stroke-width="3" />
<line x1="405.5" y1="1322.2" x2="421.7" y2="1322.2" stroke="#ff0000" stroke-width="3" />
<path d="M413.6,1294.7 L421.6,1302.7 L413.6,1310.7 L405.6,1302.7 Z" fill="#fff" stroke="#ff0000" stroke-width="3.2" stroke-linejoin="miter"/>
<line x1="611.4" y1="1200" x2="611.4" y2="1239.8" stroke="#ff0000" stroke-width="3" />
<line x1="603.3" y1="1200" x2="619.5" y2="1200" stroke="#ff0000" stroke-width="3" />
<line x1="603.3" y1="1239.8" x2="619.5" y2="1239.8" stroke="#ff0000" stroke-width="3" />
<path d="M611.4,1211.9 L619.4,1219.9 L611.4,1227.9 L603.4,1219.9 Z" fill="#fff" stroke="#ff0000" stroke-width="3.2" stroke-linejoin="miter"/>
<line x1="672.6" y1="847.9" x2="713.1" y2="847.9" stroke="#000" stroke-width="3" />
<circle cx="692.9" cy="847.9" r="7.6" fill="#fff" stroke="#000" stroke-width="2.9"/>
<text x="725" y="857.1" font-size="26" text-anchor="start" font-weight="bold" fill="#000" >Control</text>
<line x1="672.6" y1="884" x2="713.1" y2="884" stroke="#0000ff" stroke-width="3" />
<rect x="685.2" y="876.3" width="15.4" height="15.4" fill="#fff" stroke="#0000ff" stroke-width="3.3"/>
<text x="725" y="893.2" font-size="26" text-anchor="start" font-weight="bold" fill="#0000ee" >10 nM</text>
<line x1="672.6" y1="919.6" x2="713.1" y2="919.6" stroke="#00be00" stroke-width="3" />
<path d="M692.9,911.2 L701.3,927.9 L684.5,927.9 Z" fill="#fff" stroke="#00be00" stroke-width="3.1"/>
<text x="725" y="928.8" font-size="26" text-anchor="start" font-weight="bold" fill="#009a2a" >100 nM</text>
<line x1="672.6" y1="953.7" x2="713.1" y2="953.7" stroke="#aa00dc" stroke-width="3" />
<path d="M692.9,962.1 L701.3,945.7 L684.5,945.7 Z" fill="#fff" stroke="#aa00dc" stroke-width="3.1"/>
<text x="725" y="962.9" font-size="26" text-anchor="start" font-weight="bold" fill="#9a00d0" >1 µM</text>
<line x1="672.6" y1="989.6" x2="713.1" y2="989.6" stroke="#ff0000" stroke-width="3" />
<path d="M692.9,981.9 L698.9,989.6 L692.9,997.3 L686.9,989.6 Z" fill="#fff" stroke="#ff0000" stroke-width="3.1"/>
<text x="725" y="998.8" font-size="26" text-anchor="start" font-weight="bold" fill="#ff0000" >10 µM</text>
<line x1="157" y1="1584.7" x2="157" y2="2149.4" stroke="#000" stroke-width="3.4" />
<line x1="138.4" y1="1630.82" x2="157" y2="1630.82" stroke="#000" stroke-width="3.3" />
<text x="94.9" y="1641.12" font-size="29" text-anchor="start" font-weight="normal" fill="#1a1a1a" >60</text>
<line x1="138.4" y1="1716.98" x2="157" y2="1716.98" stroke="#000" stroke-width="3.3" />
<text x="94.9" y="1727.28" font-size="29" text-anchor="start" font-weight="normal" fill="#1a1a1a" >40</text>
<line x1="138.4" y1="1803.14" x2="157" y2="1803.14" stroke="#000" stroke-width="3.3" />
<text x="94.9" y="1813.44" font-size="29" text-anchor="start" font-weight="normal" fill="#1a1a1a" >20</text>
<line x1="138.4" y1="1889.3" x2="157" y2="1889.3" stroke="#000" stroke-width="3.3" />
<text x="116.6" y="1899.6" font-size="29" text-anchor="start" font-weight="normal" fill="#1a1a1a" >0</text>
<line x1="138.4" y1="1975.46" x2="157" y2="1975.46" stroke="#000" stroke-width="3.3" />
<text x="83.8" y="1985.76" font-size="29" text-anchor="start" font-weight="normal" fill="#1a1a1a" >-20</text>
<line x1="138.4" y1="2061.62" x2="157" y2="2061.62" stroke="#000" stroke-width="3.3" />
<text x="83.8" y="2071.92" font-size="29" text-anchor="start" font-weight="normal" fill="#1a1a1a" >-40</text>
<line x1="138.4" y1="2147.78" x2="157" y2="2147.78" stroke="#000" stroke-width="3.3" />
<text x="83.8" y="2158.08" font-size="29" text-anchor="start" font-weight="normal" fill="#1a1a1a" >-60</text>
<line x1="155.4" y1="2147.7" x2="718" y2="2147.7" stroke="#000" stroke-width="3.4" />
<line x1="235.9" y1="2147.7" x2="235.9" y2="2166.4" stroke="#000" stroke-width="3.3" />
<line x1="335.1" y1="2147.7" x2="335.1" y2="2166.4" stroke="#000" stroke-width="3.3" />
<line x1="434.5" y1="2147.7" x2="434.5" y2="2166.4" stroke="#000" stroke-width="3.3" />
<line x1="534" y1="2147.7" x2="534" y2="2166.4" stroke="#000" stroke-width="3.3" />
<line x1="633.4" y1="2147.7" x2="633.4" y2="2166.4" stroke="#000" stroke-width="3.3" />
<line x1="158.6" y1="1889.5" x2="714.2" y2="1889.5" stroke="#999" stroke-width="2.4" stroke-dasharray="6 3.45" stroke-dashoffset="1.45"/>
<text transform="translate(57.1,1894.3) rotate(-90)" font-size="32.2" text-anchor="middle" fill="#1a1a1a">Inhibition of K<tspan font-size="15" dy="-16.5">+</tspan><tspan dy="16.5"> response (%)</tspan></text>
<text transform="translate(237.8,2188.7) rotate(-45)" font-size="28.6" text-anchor="end" fill="#111">Control</text>
<text transform="translate(349.9,2189) rotate(-45)" font-size="28.6" text-anchor="end" fill="#111"><tspan font-weight="bold" fill="#0000ff">10 nM</tspan> 20:4-NAPE</text>
<text transform="translate(449.3,2189) rotate(-45)" font-size="28.6" text-anchor="end" fill="#111"><tspan font-weight="bold" fill="#00c000">100 nM</tspan> 20:4-NAPE</text>
<text transform="translate(548.8,2189) rotate(-45)" font-size="28.6" text-anchor="end" fill="#111"><tspan font-weight="bold" fill="#a000d8">1 µM</tspan> 20:4-NAPE</text>
<text transform="translate(648.2,2189) rotate(-45)" font-size="28.6" text-anchor="end" fill="#111"><tspan font-weight="bold" fill="#ff0000">10 µM</tspan> 20:4-NAPE</text>
<g fill="#000"><circle cx="236.2" cy="1766.6" r="2.7"/><circle cx="236.2" cy="1775.8" r="2.7"/><circle cx="236.2" cy="1786" r="2.7"/><circle cx="224.7" cy="1793.6" r="2.7"/><circle cx="229.4" cy="1795.4" r="2.7"/><circle cx="234.1" cy="1799.1" r="2.7"/><circle cx="235.2" cy="1794.4" r="2.7"/><circle cx="237.8" cy="1792.8" r="2.7"/><circle cx="238.8" cy="1797" r="2.7"/><circle cx="242.5" cy="1792.3" r="2.7"/><circle cx="247.1" cy="1791.8" r="2.7"/><circle cx="224.7" cy="1809.5" r="2.7"/><circle cx="229.4" cy="1810.6" r="2.7"/><circle cx="234.1" cy="1807.4" r="2.7"/><circle cx="238.3" cy="1808.5" r="2.7"/><circle cx="243" cy="1810" r="2.7"/><circle cx="247.7" cy="1810.6" r="2.7"/><circle cx="251.8" cy="1806.9" r="2.7"/><circle cx="238.8" cy="1812.6" r="2.7"/><circle cx="242.5" cy="1815.8" r="2.7"/><circle cx="238.3" cy="1818.9" r="2.7"/><circle cx="256" cy="1817.9" r="2.7"/><circle cx="234.1" cy="1822" r="2.7"/><circle cx="238.3" cy="1822" r="2.7"/><circle cx="242.5" cy="1822.5" r="2.7"/><circle cx="251.3" cy="1824.1" r="2.7"/><circle cx="256.5" cy="1823.6" r="2.7"/><circle cx="261.2" cy="1824.6" r="2.7"/><circle cx="215.9" cy="1821.5" r="2.7"/><circle cx="220.6" cy="1820" r="2.7"/><circle cx="225.2" cy="1823.1" r="2.7"/><circle cx="211.7" cy="1826.7" r="2.7"/><circle cx="216.4" cy="1826.2" r="2.7"/><circle cx="220.6" cy="1825.2" r="2.7"/><circle cx="229.4" cy="1826.7" r="2.7"/><circle cx="224.7" cy="1828.3" r="2.7"/><circle cx="211.7" cy="1833" r="2.7"/><circle cx="216.4" cy="1833" r="2.7"/><circle cx="225.2" cy="1832.5" r="2.7"/><circle cx="229.4" cy="1830.9" r="2.7"/><circle cx="234.1" cy="1830.9" r="2.7"/><circle cx="238.3" cy="1828.8" r="2.7"/><circle cx="242.5" cy="1827.8" r="2.7"/><circle cx="238.3" cy="1833" r="2.7"/><circle cx="242.5" cy="1832" r="2.7"/><circle cx="247.1" cy="1832" r="2.7"/><circle cx="251.8" cy="1830.9" r="2.7"/><circle cx="256.5" cy="1828.8" r="2.7"/><circle cx="261.2" cy="1827.8" r="2.7"/><circle cx="251.8" cy="1834.5" r="2.7"/><circle cx="256.5" cy="1834" r="2.7"/><circle cx="261.2" cy="1833.5" r="2.7"/><circle cx="220.6" cy="1836" r="2.7"/><circle cx="247.1" cy="1836.5" r="2.7"/><circle cx="211.7" cy="1839.2" r="2.7"/><circle cx="207.5" cy="1842.4" r="2.7"/><circle cx="220.6" cy="1841.3" r="2.7"/><circle cx="225.2" cy="1838.7" r="2.7"/><circle cx="234.1" cy="1839.2" r="2.7"/><circle cx="238.3" cy="1839.2" r="2.7"/><circle cx="242.5" cy="1839.2" r="2.7"/><circle cx="247.1" cy="1839.2" r="2.7"/><circle cx="229.4" cy="1836.5" r="2.7"/><circle cx="211.45" cy="1843.13" r="2.7"/><circle cx="229.45" cy="1843.32" r="2.7"/><circle cx="260.95" cy="1843.6" r="2.7"/><circle cx="233.95" cy="1843.68" r="2.7"/><circle cx="251.95" cy="1844.7" r="2.7"/><circle cx="238.45" cy="1845.3" r="2.7"/><circle cx="220.45" cy="1845.35" r="2.7"/><circle cx="215.95" cy="1845.77" r="2.7"/><circle cx="256.45" cy="1845.86" r="2.7"/><circle cx="247.45" cy="1846.05" r="2.7"/><circle cx="242.95" cy="1847.27" r="2.7"/><circle cx="224.95" cy="1847.36" r="2.7"/><circle cx="260.95" cy="1847.98" r="2.7"/><circle cx="256.45" cy="1848.19" r="2.7"/><circle cx="229.45" cy="1848.68" r="2.7"/><circle cx="247.45" cy="1848.87" r="2.7"/><circle cx="251.95" cy="1849.23" r="2.7"/><circle cx="220.45" cy="1849.75" r="2.7"/><circle cx="238.45" cy="1849.82" r="2.7"/><circle cx="233.95" cy="1850.15" r="2.7"/><circle cx="242.95" cy="1850.32" r="2.7"/><circle cx="215.95" cy="1851.29" r="2.7"/><circle cx="224.95" cy="1851.59" r="2.7"/><circle cx="211.45" cy="1851.72" r="2.7"/><circle cx="251.95" cy="1852.28" r="2.7"/><circle cx="256.45" cy="1852.94" r="2.7"/><circle cx="242.95" cy="1853.12" r="2.7"/><circle cx="233.95" cy="1853.76" r="2.7"/><circle cx="247.45" cy="1853.79" r="2.7"/><circle cx="238.45" cy="1854.31" r="2.7"/><circle cx="224.95" cy="1854.36" r="2.7"/><circle cx="220.45" cy="1855.41" r="2.7"/><circle cx="215.95" cy="1856.37" r="2.7"/><circle cx="229.45" cy="1856.78" r="2.7"/><circle cx="258.7" cy="1856.91" r="2.7"/><circle cx="213.7" cy="1857.08" r="2.7"/><circle cx="218.2" cy="1857.21" r="2.7"/><circle cx="236.2" cy="1857.39" r="2.7"/><circle cx="245.2" cy="1857.59" r="2.7"/><circle cx="227.2" cy="1857.7" r="2.7"/><circle cx="231.7" cy="1858.94" r="2.7"/><circle cx="222.7" cy="1859.55" r="2.7"/><circle cx="240.7" cy="1860.2" r="2.7"/><circle cx="254.2" cy="1860.66" r="2.7"/><circle cx="249.7" cy="1860.92" r="2.7"/><circle cx="260.95" cy="1861.58" r="2.7"/><circle cx="247.45" cy="1861.71" r="2.7"/><circle cx="229.45" cy="1862.4" r="2.7"/><circle cx="215.95" cy="1862.59" r="2.7"/><circle cx="224.95" cy="1862.85" r="2.7"/><circle cx="220.45" cy="1862.85" r="2.7"/><circle cx="242.95" cy="1862.97" r="2.7"/><circle cx="251.95" cy="1863.41" r="2.7"/><circle cx="233.95" cy="1864.83" r="2.7"/><circle cx="238.45" cy="1865.32" r="2.7"/><circle cx="211.45" cy="1865.73" r="2.7"/><circle cx="256.45" cy="1865.9" r="2.7"/><circle cx="263.2" cy="1866.16" r="2.7"/><circle cx="249.7" cy="1866.66" r="2.7"/><circle cx="231.7" cy="1866.66" r="2.7"/><circle cx="245.2" cy="1866.69" r="2.7"/><circle cx="267.7" cy="1866.75" r="2.7"/><circle cx="254.2" cy="1867.12" r="2.7"/><circle cx="240.7" cy="1867.65" r="2.7"/><circle cx="213.7" cy="1868.04" r="2.7"/><circle cx="258.7" cy="1868.88" r="2.7"/><circle cx="222.7" cy="1869.49" r="2.7"/><circle cx="209.2" cy="1869.59" r="2.7"/><circle cx="204.7" cy="1869.62" r="2.7"/><circle cx="236.2" cy="1870.12" r="2.7"/><circle cx="218.2" cy="1870.27" r="2.7"/><circle cx="227.2" cy="1870.59" r="2.7"/><circle cx="213.7" cy="1870.78" r="2.7"/><circle cx="231.7" cy="1871" r="2.7"/><circle cx="222.7" cy="1871.13" r="2.7"/><circle cx="249.7" cy="1871.13" r="2.7"/><circle cx="245.2" cy="1871.2" r="2.7"/><circle cx="258.7" cy="1872.05" r="2.7"/><circle cx="218.2" cy="1872.09" r="2.7"/><circle cx="236.2" cy="1872.22" r="2.7"/><circle cx="204.7" cy="1872.42" r="2.7"/><circle cx="254.2" cy="1873.15" r="2.7"/><circle cx="209.2" cy="1873.18" r="2.7"/><circle cx="267.7" cy="1873.53" r="2.7"/><circle cx="263.2" cy="1873.56" r="2.7"/><circle cx="240.7" cy="1874.8" r="2.7"/><circle cx="227.2" cy="1875.03" r="2.7"/><circle cx="247.45" cy="1875.83" r="2.7"/><circle cx="238.45" cy="1876.3" r="2.7"/><circle cx="251.95" cy="1876.35" r="2.7"/><circle cx="265.45" cy="1876.43" r="2.7"/><circle cx="211.45" cy="1876.51" r="2.7"/><circle cx="220.45" cy="1877" r="2.7"/><circle cx="206.95" cy="1877.49" r="2.7"/><circle cx="229.45" cy="1877.97" r="2.7"/><circle cx="260.95" cy="1877.99" r="2.7"/><circle cx="224.95" cy="1878.06" r="2.7"/><circle cx="242.95" cy="1878.51" r="2.7"/><circle cx="233.95" cy="1878.7" r="2.7"/><circle cx="215.95" cy="1878.83" r="2.7"/><circle cx="256.45" cy="1878.9" r="2.7"/><circle cx="218.2" cy="1879.93" r="2.7"/><circle cx="236.2" cy="1880.24" r="2.7"/><circle cx="227.2" cy="1880.51" r="2.7"/><circle cx="258.7" cy="1881.29" r="2.7"/><circle cx="240.7" cy="1882.33" r="2.7"/><circle cx="254.2" cy="1882.73" r="2.7"/><circle cx="231.7" cy="1883.28" r="2.7"/><circle cx="213.7" cy="1883.41" r="2.7"/><circle cx="249.7" cy="1883.48" r="2.7"/><circle cx="245.2" cy="1883.95" r="2.7"/><circle cx="222.7" cy="1884.31" r="2.7"/><circle cx="222.7" cy="1884.69" r="2.7"/><circle cx="240.7" cy="1886.46" r="2.7"/><circle cx="231.7" cy="1886.95" r="2.7"/><circle cx="218.2" cy="1886.97" r="2.7"/><circle cx="254.2" cy="1887" r="2.7"/><circle cx="249.7" cy="1887.58" r="2.7"/><circle cx="236.2" cy="1887.83" r="2.7"/><circle cx="245.2" cy="1888" r="2.7"/><circle cx="227.2" cy="1888.15" r="2.7"/><circle cx="238.45" cy="1889.42" r="2.7"/><circle cx="233.95" cy="1889.63" r="2.7"/><circle cx="247.45" cy="1890.97" r="2.7"/><circle cx="229.45" cy="1891.09" r="2.7"/><circle cx="242.95" cy="1891.85" r="2.7"/><circle cx="224.95" cy="1892.92" r="2.7"/><circle cx="229.45" cy="1893.65" r="2.7"/><circle cx="224.95" cy="1894.22" r="2.7"/><circle cx="242.95" cy="1894.39" r="2.7"/><circle cx="247.45" cy="1895.9" r="2.7"/><circle cx="238.45" cy="1895.96" r="2.7"/><circle cx="233.95" cy="1897.57" r="2.7"/><circle cx="227.2" cy="1898.75" r="2.7"/><circle cx="222.7" cy="1899.15" r="2.7"/><circle cx="249.7" cy="1899.52" r="2.7"/><circle cx="236.2" cy="1900.13" r="2.7"/><circle cx="245.2" cy="1900.67" r="2.7"/><circle cx="240.7" cy="1900.69" r="2.7"/><circle cx="231.7" cy="1901.49" r="2.7"/><circle cx="249.7" cy="1903.13" r="2.7"/><circle cx="245.2" cy="1903.17" r="2.7"/><circle cx="236.2" cy="1903.53" r="2.7"/><circle cx="240.7" cy="1904.47" r="2.7"/><circle cx="227.2" cy="1905.14" r="2.7"/><circle cx="222.7" cy="1906.19" r="2.7"/><circle cx="231.7" cy="1907.27" r="2.7"/><circle cx="197" cy="1844.39" r="2.7"/><circle cx="201.6" cy="1844.44" r="2.7"/><circle cx="206.2" cy="1845.66" r="2.7"/><circle cx="210.8" cy="1846.92" r="2.7"/><circle cx="215.4" cy="1847.04" r="2.7"/><circle cx="220" cy="1845.4" r="2.7"/><circle cx="224.6" cy="1846.96" r="2.7"/><circle cx="229.2" cy="1847.09" r="2.7"/><circle cx="233.8" cy="1845.52" r="2.7"/><circle cx="238.4" cy="1846.54" r="2.7"/><circle cx="243" cy="1845.4" r="2.7"/><circle cx="247.6" cy="1844.76" r="2.7"/><circle cx="252.2" cy="1846.03" r="2.7"/><circle cx="256.8" cy="1844.56" r="2.7"/><circle cx="261.4" cy="1846.29" r="2.7"/><circle cx="266" cy="1846.73" r="2.7"/><circle cx="270.6" cy="1847.05" r="2.7"/><circle cx="275.2" cy="1845.64" r="2.7"/><circle cx="229.4" cy="1912.9" r="2.7"/><circle cx="234" cy="1912.9" r="2.7"/><circle cx="238.5" cy="1912.9" r="2.7"/><circle cx="243" cy="1912.9" r="2.7"/><circle cx="232" cy="1919.6" r="2.7"/><circle cx="236.5" cy="1919.6" r="2.7"/><circle cx="241" cy="1919.6" r="2.7"/><circle cx="234" cy="1924.3" r="2.7"/><circle cx="229.4" cy="1927" r="2.7"/><circle cx="243" cy="1927" r="2.7"/><circle cx="229.4" cy="1933.2" r="2.7"/><circle cx="234" cy="1933.2" r="2.7"/><circle cx="243" cy="1933.2" r="2.7"/><circle cx="238" cy="1936.3" r="2.7"/><circle cx="229.4" cy="1942.6" r="2.7"/><circle cx="234" cy="1942.6" r="2.7"/><circle cx="238" cy="1942.6" r="2.7"/><circle cx="243" cy="1942.6" r="2.7"/><circle cx="238" cy="1951.4" r="2.7"/><circle cx="234" cy="1954.6" r="2.7"/><circle cx="238" cy="1957.2" r="2.7"/><circle cx="229.4" cy="1960.3" r="2.7"/><circle cx="238" cy="1963.4" r="2.7"/><circle cx="229.4" cy="1965.5" r="2.7"/><circle cx="234" cy="1965.5" r="2.7"/><circle cx="243" cy="1965.5" r="2.7"/><circle cx="238" cy="1968.7" r="2.7"/><circle cx="236" cy="1973.3" r="2.7"/><circle cx="236" cy="1979" r="2.7"/><circle cx="236" cy="1986.4" r="2.7"/><circle cx="236" cy="2000.5" r="2.7"/><circle cx="238.5" cy="2009.9" r="2.7"/><circle cx="234" cy="2013.5" r="2.7"/><circle cx="236" cy="2052.1" r="2.7"/><circle cx="236" cy="2075.6" r="2.7"/></g>
<g fill="#0000ff"><circle cx="337.8" cy="1627.9" r="2.7"/><circle cx="335.5" cy="1644.1" r="2.7"/><circle cx="335.5" cy="1686.1" r="2.7"/><circle cx="331.3" cy="1696" r="2.7"/><circle cx="335.5" cy="1698.3" r="2.7"/><circle cx="331.3" cy="1705.4" r="2.7"/><circle cx="335.5" cy="1708.2" r="2.7"/><circle cx="335.5" cy="1732.5" r="2.7"/><circle cx="335.5" cy="1738.6" r="2.7"/><circle cx="335.5" cy="1749.5" r="2.7"/><circle cx="335.5" cy="1756.3" r="2.7"/><circle cx="335.5" cy="1761.3" r="2.7"/><circle cx="337.75" cy="1768.67" r="2.7"/><circle cx="328.75" cy="1769.92" r="2.7"/><circle cx="342.25" cy="1770.06" r="2.7"/><circle cx="333.25" cy="1770.35" r="2.7"/><circle cx="331" cy="1771.32" r="2.7"/><circle cx="340" cy="1771.81" r="2.7"/><circle cx="335.5" cy="1771.96" r="2.7"/><circle cx="326.5" cy="1773.61" r="2.7"/><circle cx="344.5" cy="1773.74" r="2.7"/><circle cx="333.25" cy="1775.72" r="2.7"/><circle cx="328.75" cy="1777.19" r="2.7"/><circle cx="337.75" cy="1777.2" r="2.7"/><circle cx="342.25" cy="1779.22" r="2.7"/><circle cx="335.5" cy="1780.07" r="2.7"/><circle cx="331" cy="1781.3" r="2.7"/><circle cx="340" cy="1782.17" r="2.7"/><circle cx="333.25" cy="1786.15" r="2.7"/><circle cx="337.75" cy="1786.33" r="2.7"/><circle cx="342.25" cy="1787.6" r="2.7"/><circle cx="328.75" cy="1788.05" r="2.7"/><circle cx="324.25" cy="1788.1" r="2.7"/><circle cx="346.75" cy="1788.21" r="2.7"/><circle cx="333.25" cy="1788.63" r="2.7"/><circle cx="342.25" cy="1789.61" r="2.7"/><circle cx="337.75" cy="1790.14" r="2.7"/><circle cx="351.25" cy="1790.46" r="2.7"/><circle cx="346.75" cy="1790.6" r="2.7"/><circle cx="319.75" cy="1791.46" r="2.7"/><circle cx="328.75" cy="1791.73" r="2.7"/><circle cx="324.25" cy="1792.09" r="2.7"/><circle cx="322" cy="1793.08" r="2.7"/><circle cx="331" cy="1793.12" r="2.7"/><circle cx="344.5" cy="1793.3" r="2.7"/><circle cx="340" cy="1794.02" r="2.7"/><circle cx="326.5" cy="1794.87" r="2.7"/><circle cx="335.5" cy="1795.69" r="2.7"/><circle cx="349" cy="1796.54" r="2.7"/><circle cx="337.75" cy="1797.51" r="2.7"/><circle cx="346.75" cy="1797.73" r="2.7"/><circle cx="333.25" cy="1798.33" r="2.7"/><circle cx="342.25" cy="1798.93" r="2.7"/><circle cx="328.75" cy="1799.15" r="2.7"/><circle cx="324.25" cy="1799.23" r="2.7"/><circle cx="351.25" cy="1799.24" r="2.7"/><circle cx="319.75" cy="1800.1" r="2.7"/><circle cx="326.5" cy="1802.58" r="2.7"/><circle cx="353.5" cy="1802.97" r="2.7"/><circle cx="331" cy="1803.99" r="2.7"/><circle cx="335.5" cy="1804.95" r="2.7"/><circle cx="344.5" cy="1805.36" r="2.7"/><circle cx="340" cy="1805.7" r="2.7"/><circle cx="349" cy="1806" r="2.7"/><circle cx="322" cy="1806.13" r="2.7"/><circle cx="317.5" cy="1806.24" r="2.7"/><circle cx="322" cy="1806.64" r="2.7"/><circle cx="331" cy="1806.72" r="2.7"/><circle cx="340" cy="1806.82" r="2.7"/><circle cx="335.5" cy="1807.62" r="2.7"/><circle cx="326.5" cy="1807.74" r="2.7"/><circle cx="353.5" cy="1807.83" r="2.7"/><circle cx="344.5" cy="1808.32" r="2.7"/><circle cx="313" cy="1809.55" r="2.7"/><circle cx="317.5" cy="1809.57" r="2.7"/><circle cx="358" cy="1809.75" r="2.7"/><circle cx="349" cy="1810.23" r="2.7"/><circle cx="313" cy="1811.11" r="2.7"/><circle cx="353.5" cy="1811.47" r="2.7"/><circle cx="335.5" cy="1812.01" r="2.7"/><circle cx="344.5" cy="1812.22" r="2.7"/><circle cx="349" cy="1812.26" r="2.7"/><circle cx="358" cy="1812.39" r="2.7"/><circle cx="317.5" cy="1812.71" r="2.7"/><circle cx="322" cy="1812.75" r="2.7"/><circle cx="340" cy="1813.63" r="2.7"/><circle cx="331" cy="1814.06" r="2.7"/><circle cx="326.5" cy="1815.09" r="2.7"/><circle cx="342.25" cy="1816.1" r="2.7"/><circle cx="346.75" cy="1816.31" r="2.7"/><circle cx="355.75" cy="1817.4" r="2.7"/><circle cx="324.25" cy="1818.09" r="2.7"/><circle cx="337.75" cy="1818.63" r="2.7"/><circle cx="319.75" cy="1818.68" r="2.7"/><circle cx="333.25" cy="1818.91" r="2.7"/><circle cx="315.25" cy="1819.01" r="2.7"/><circle cx="351.25" cy="1819.51" r="2.7"/><circle cx="328.75" cy="1819.53" r="2.7"/><circle cx="310.75" cy="1820.42" r="2.7"/><circle cx="355.75" cy="1820.69" r="2.7"/><circle cx="319.75" cy="1821.68" r="2.7"/><circle cx="342.25" cy="1821.74" r="2.7"/><circle cx="360.25" cy="1821.78" r="2.7"/><circle cx="328.75" cy="1822.03" r="2.7"/><circle cx="333.25" cy="1822.32" r="2.7"/><circle cx="315.25" cy="1822.78" r="2.7"/><circle cx="351.25" cy="1823.6" r="2.7"/><circle cx="337.75" cy="1823.64" r="2.7"/><circle cx="346.75" cy="1823.95" r="2.7"/><circle cx="324.25" cy="1824.17" r="2.7"/><circle cx="340" cy="1825.64" r="2.7"/><circle cx="353.5" cy="1825.66" r="2.7"/><circle cx="322" cy="1825.96" r="2.7"/><circle cx="331" cy="1826.18" r="2.7"/><circle cx="358" cy="1826.58" r="2.7"/><circle cx="317.5" cy="1826.64" r="2.7"/><circle cx="344.5" cy="1826.77" r="2.7"/><circle cx="313" cy="1826.81" r="2.7"/><circle cx="349" cy="1827.24" r="2.7"/><circle cx="326.5" cy="1828.51" r="2.7"/><circle cx="335.5" cy="1828.79" r="2.7"/><circle cx="324.25" cy="1829.1" r="2.7"/><circle cx="342.25" cy="1830.03" r="2.7"/><circle cx="355.75" cy="1830.19" r="2.7"/><circle cx="351.25" cy="1831.02" r="2.7"/><circle cx="337.75" cy="1831.14" r="2.7"/><circle cx="310.75" cy="1831.86" r="2.7"/><circle cx="328.75" cy="1832.04" r="2.7"/><circle cx="319.75" cy="1832.25" r="2.7"/><circle cx="333.25" cy="1832.68" r="2.7"/><circle cx="315.25" cy="1833.04" r="2.7"/><circle cx="360.25" cy="1833.08" r="2.7"/><circle cx="346.75" cy="1833.44" r="2.7"/><circle cx="317.5" cy="1833.94" r="2.7"/><circle cx="340" cy="1834.5" r="2.7"/><circle cx="358" cy="1834.78" r="2.7"/><circle cx="335.5" cy="1835.12" r="2.7"/><circle cx="349" cy="1835.22" r="2.7"/><circle cx="331" cy="1835.55" r="2.7"/><circle cx="313" cy="1835.91" r="2.7"/><circle cx="353.5" cy="1836.32" r="2.7"/><circle cx="322" cy="1836.84" r="2.7"/><circle cx="344.5" cy="1837.13" r="2.7"/><circle cx="326.5" cy="1837.7" r="2.7"/><circle cx="326.5" cy="1838.02" r="2.7"/><circle cx="317.5" cy="1838.26" r="2.7"/><circle cx="335.5" cy="1838.98" r="2.7"/><circle cx="340" cy="1839.09" r="2.7"/><circle cx="349" cy="1839.12" r="2.7"/><circle cx="331" cy="1840.33" r="2.7"/><circle cx="353.5" cy="1840.85" r="2.7"/><circle cx="322" cy="1841.06" r="2.7"/><circle cx="313" cy="1841.28" r="2.7"/><circle cx="308.5" cy="1841.59" r="2.7"/><circle cx="362.5" cy="1841.89" r="2.7"/><circle cx="358" cy="1842.14" r="2.7"/><circle cx="344.5" cy="1842.31" r="2.7"/><circle cx="333.25" cy="1842.69" r="2.7"/><circle cx="310.75" cy="1843.22" r="2.7"/><circle cx="306.25" cy="1843.99" r="2.7"/><circle cx="346.75" cy="1844.52" r="2.7"/><circle cx="315.25" cy="1844.8" r="2.7"/><circle cx="337.75" cy="1844.89" r="2.7"/><circle cx="369.25" cy="1845.17" r="2.7"/><circle cx="355.75" cy="1845.38" r="2.7"/><circle cx="324.25" cy="1845.52" r="2.7"/><circle cx="364.75" cy="1845.52" r="2.7"/><circle cx="301.75" cy="1845.62" r="2.7"/><circle cx="328.75" cy="1846.15" r="2.7"/><circle cx="319.75" cy="1846.56" r="2.7"/><circle cx="342.25" cy="1846.65" r="2.7"/><circle cx="360.25" cy="1846.89" r="2.7"/><circle cx="351.25" cy="1846.91" r="2.7"/><circle cx="315.25" cy="1847.46" r="2.7"/><circle cx="342.25" cy="1847.48" r="2.7"/><circle cx="351.25" cy="1847.48" r="2.7"/><circle cx="355.75" cy="1848.23" r="2.7"/><circle cx="328.75" cy="1848.3" r="2.7"/><circle cx="360.25" cy="1848.39" r="2.7"/><circle cx="324.25" cy="1849.02" r="2.7"/><circle cx="346.75" cy="1849.11" r="2.7"/><circle cx="310.75" cy="1849.16" r="2.7"/><circle cx="333.25" cy="1849.48" r="2.7"/><circle cx="319.75" cy="1849.79" r="2.7"/><circle cx="364.75" cy="1850.09" r="2.7"/><circle cx="306.25" cy="1850.96" r="2.7"/><circle cx="337.75" cy="1851.3" r="2.7"/><circle cx="353.5" cy="1852.15" r="2.7"/><circle cx="326.5" cy="1852.31" r="2.7"/><circle cx="313" cy="1852.57" r="2.7"/><circle cx="317.5" cy="1852.91" r="2.7"/><circle cx="349" cy="1853.28" r="2.7"/><circle cx="340" cy="1853.75" r="2.7"/><circle cx="344.5" cy="1853.99" r="2.7"/><circle cx="308.5" cy="1854.84" r="2.7"/><circle cx="362.5" cy="1854.89" r="2.7"/><circle cx="322" cy="1855.32" r="2.7"/><circle cx="331" cy="1855.5" r="2.7"/><circle cx="304" cy="1855.61" r="2.7"/><circle cx="367" cy="1855.82" r="2.7"/><circle cx="335.5" cy="1855.94" r="2.7"/><circle cx="358" cy="1855.95" r="2.7"/><circle cx="360.25" cy="1856.03" r="2.7"/><circle cx="355.75" cy="1856.28" r="2.7"/><circle cx="306.25" cy="1856.33" r="2.7"/><circle cx="364.75" cy="1856.37" r="2.7"/><circle cx="315.25" cy="1856.91" r="2.7"/><circle cx="369.25" cy="1857.17" r="2.7"/><circle cx="324.25" cy="1857.38" r="2.7"/><circle cx="333.25" cy="1857.56" r="2.7"/><circle cx="342.25" cy="1857.99" r="2.7"/><circle cx="328.75" cy="1858.09" r="2.7"/><circle cx="337.75" cy="1858.53" r="2.7"/><circle cx="346.75" cy="1858.64" r="2.7"/><circle cx="351.25" cy="1859.18" r="2.7"/><circle cx="319.75" cy="1859.3" r="2.7"/><circle cx="301.75" cy="1859.42" r="2.7"/><circle cx="310.75" cy="1859.55" r="2.7"/><circle cx="324.25" cy="1860.84" r="2.7"/><circle cx="351.25" cy="1860.93" r="2.7"/><circle cx="315.25" cy="1861.26" r="2.7"/><circle cx="319.75" cy="1861.27" r="2.7"/><circle cx="328.75" cy="1861.44" r="2.7"/><circle cx="342.25" cy="1861.51" r="2.7"/><circle cx="310.75" cy="1861.68" r="2.7"/><circle cx="333.25" cy="1862.14" r="2.7"/><circle cx="355.75" cy="1862.66" r="2.7"/><circle cx="346.75" cy="1862.66" r="2.7"/><circle cx="360.25" cy="1863.41" r="2.7"/><circle cx="337.75" cy="1864.42" r="2.7"/><circle cx="340" cy="1865.51" r="2.7"/><circle cx="349" cy="1865.88" r="2.7"/><circle cx="344.5" cy="1866.15" r="2.7"/><circle cx="331" cy="1867.33" r="2.7"/><circle cx="335.5" cy="1867.54" r="2.7"/><circle cx="353.5" cy="1867.55" r="2.7"/><circle cx="326.5" cy="1867.56" r="2.7"/><circle cx="317.5" cy="1868.09" r="2.7"/><circle cx="322" cy="1869.06" r="2.7"/><circle cx="353.5" cy="1869.54" r="2.7"/><circle cx="308.5" cy="1870.2" r="2.7"/><circle cx="340" cy="1870.29" r="2.7"/><circle cx="313" cy="1870.8" r="2.7"/><circle cx="344.5" cy="1870.88" r="2.7"/><circle cx="349" cy="1871.12" r="2.7"/><circle cx="326.5" cy="1871.38" r="2.7"/><circle cx="335.5" cy="1872.21" r="2.7"/><circle cx="331" cy="1872.73" r="2.7"/><circle cx="358" cy="1872.88" r="2.7"/><circle cx="362.5" cy="1873" r="2.7"/><circle cx="317.5" cy="1873.28" r="2.7"/><circle cx="322" cy="1873.34" r="2.7"/><circle cx="362.5" cy="1874.51" r="2.7"/><circle cx="317.5" cy="1874.98" r="2.7"/><circle cx="331" cy="1875.23" r="2.7"/><circle cx="358" cy="1875.27" r="2.7"/><circle cx="326.5" cy="1875.68" r="2.7"/><circle cx="313" cy="1875.83" r="2.7"/><circle cx="340" cy="1876.16" r="2.7"/><circle cx="344.5" cy="1877.13" r="2.7"/><circle cx="322" cy="1877.2" r="2.7"/><circle cx="353.5" cy="1877.81" r="2.7"/><circle cx="308.5" cy="1877.92" r="2.7"/><circle cx="335.5" cy="1877.93" r="2.7"/><circle cx="349" cy="1878.37" r="2.7"/><circle cx="333.25" cy="1878.65" r="2.7"/><circle cx="324.25" cy="1878.73" r="2.7"/><circle cx="346.75" cy="1879" r="2.7"/><circle cx="360.25" cy="1879.22" r="2.7"/><circle cx="337.75" cy="1879.68" r="2.7"/><circle cx="319.75" cy="1879.7" r="2.7"/><circle cx="328.75" cy="1879.72" r="2.7"/><circle cx="351.25" cy="1880.51" r="2.7"/><circle cx="310.75" cy="1880.53" r="2.7"/><circle cx="342.25" cy="1881.35" r="2.7"/><circle cx="315.25" cy="1882.29" r="2.7"/><circle cx="355.75" cy="1882.31" r="2.7"/><circle cx="331" cy="1884" r="2.7"/><circle cx="353.5" cy="1884.19" r="2.7"/><circle cx="326.5" cy="1884.96" r="2.7"/><circle cx="344.5" cy="1884.97" r="2.7"/><circle cx="317.5" cy="1885.75" r="2.7"/><circle cx="322" cy="1886.36" r="2.7"/><circle cx="358" cy="1886.44" r="2.7"/><circle cx="335.5" cy="1886.6" r="2.7"/><circle cx="313" cy="1886.98" r="2.7"/><circle cx="349" cy="1887.1" r="2.7"/><circle cx="340" cy="1887.11" r="2.7"/><circle cx="342.25" cy="1887.63" r="2.7"/><circle cx="319.75" cy="1888.05" r="2.7"/><circle cx="324.25" cy="1888.4" r="2.7"/><circle cx="328.75" cy="1888.86" r="2.7"/><circle cx="337.75" cy="1889.92" r="2.7"/><circle cx="315.25" cy="1890.06" r="2.7"/><circle cx="351.25" cy="1890.53" r="2.7"/><circle cx="333.25" cy="1890.77" r="2.7"/><circle cx="355.75" cy="1890.96" r="2.7"/><circle cx="346.75" cy="1891.13" r="2.7"/><circle cx="328.75" cy="1892.2" r="2.7"/><circle cx="337.75" cy="1892.43" r="2.7"/><circle cx="319.75" cy="1892.77" r="2.7"/><circle cx="333.25" cy="1893.11" r="2.7"/><circle cx="346.75" cy="1894.61" r="2.7"/><circle cx="324.25" cy="1894.66" r="2.7"/><circle cx="351.25" cy="1894.86" r="2.7"/><circle cx="342.25" cy="1895.7" r="2.7"/><circle cx="337.75" cy="1896.97" r="2.7"/><circle cx="346.75" cy="1897.55" r="2.7"/><circle cx="342.25" cy="1897.77" r="2.7"/><circle cx="333.25" cy="1898.25" r="2.7"/><circle cx="324.25" cy="1899.84" r="2.7"/><circle cx="328.75" cy="1899.93" r="2.7"/><circle cx="324.25" cy="1901.23" r="2.7"/><circle cx="328.75" cy="1901.25" r="2.7"/><circle cx="333.25" cy="1903.56" r="2.7"/><circle cx="337.75" cy="1903.6" r="2.7"/><circle cx="346.75" cy="1904.6" r="2.7"/><circle cx="342.25" cy="1904.96" r="2.7"/><circle cx="328.75" cy="1906.54" r="2.7"/><circle cx="337.75" cy="1908.21" r="2.7"/><circle cx="333.25" cy="1909.6" r="2.7"/><circle cx="342.25" cy="1909.96" r="2.7"/><circle cx="333.25" cy="1912.48" r="2.7"/><circle cx="337.75" cy="1912.82" r="2.7"/><circle cx="331" cy="1914.4" r="2.7"/><circle cx="335.5" cy="1914.4" r="2.7"/><circle cx="337" cy="1917.5" r="2.7"/><circle cx="327" cy="1920.2" r="2.7"/><circle cx="328" cy="1922.8" r="2.7"/><circle cx="332.5" cy="1922.8" r="2.7"/><circle cx="337" cy="1922.8" r="2.7"/><circle cx="341.5" cy="1922.8" r="2.7"/><circle cx="346" cy="1922.8" r="2.7"/><circle cx="331" cy="1930" r="2.7"/><circle cx="337.6" cy="1931.6" r="2.7"/><circle cx="331" cy="1937.4" r="2.7"/><circle cx="340" cy="1939.5" r="2.7"/><circle cx="344" cy="1942" r="2.7"/><circle cx="331" cy="1943.6" r="2.7"/><circle cx="335" cy="1946.2" r="2.7"/><circle cx="340" cy="1946.2" r="2.7"/><circle cx="327" cy="1963.7" r="2.7"/><circle cx="331" cy="1961" r="2.7"/><circle cx="335.5" cy="1960" r="2.7"/><circle cx="340" cy="1962.7" r="2.7"/><circle cx="344" cy="1957.7" r="2.7"/><circle cx="348.4" cy="1959.6" r="2.7"/><circle cx="339.5" cy="1966.5" r="2.7"/><circle cx="335.7" cy="1969.8" r="2.7"/><circle cx="335.7" cy="1974.9" r="2.7"/><circle cx="333.1" cy="1987.4" r="2.7"/><circle cx="337.6" cy="1986.1" r="2.7"/><circle cx="337.6" cy="2002" r="2.7"/><circle cx="333.1" cy="2005" r="2.7"/><circle cx="335.7" cy="2020.9" r="2.7"/><circle cx="335.7" cy="2031.6" r="2.7"/><circle cx="335.7" cy="2066.4" r="2.7"/><circle cx="335.7" cy="2087.5" r="2.7"/></g>
<g fill="#00c000"><circle cx="431.3" cy="1637.9" r="2.7"/><circle cx="437.8" cy="1638.2" r="2.7"/><circle cx="428.2" cy="1644.3" r="2.7"/><circle cx="434.6" cy="1644.7" r="2.7"/><circle cx="440.8" cy="1644.3" r="2.7"/><circle cx="434.6" cy="1659.2" r="2.7"/><circle cx="431.3" cy="1665.5" r="2.7"/><circle cx="437.8" cy="1665.8" r="2.7"/><circle cx="440.8" cy="1681.3" r="2.7"/><circle cx="428.2" cy="1685.4" r="2.7"/><circle cx="434.6" cy="1686.5" r="2.7"/><circle cx="428.2" cy="1690.9" r="2.7"/><circle cx="440.8" cy="1690.5" r="2.7"/><circle cx="434.6" cy="1695.8" r="2.7"/><circle cx="428.2" cy="1699.7" r="2.7"/><circle cx="440.8" cy="1702" r="2.7"/><circle cx="428.2" cy="1704.5" r="2.7"/><circle cx="434.6" cy="1707.8" r="2.7"/><circle cx="431.3" cy="1720.7" r="2.7"/><circle cx="437.8" cy="1721.3" r="2.7"/><circle cx="428.2" cy="1727.7" r="2.7"/><circle cx="434.6" cy="1729" r="2.7"/><circle cx="440.8" cy="1727.7" r="2.7"/><circle cx="447.1" cy="1732.6" r="2.7"/><circle cx="447.1" cy="1738.2" r="2.7"/><circle cx="422" cy="1735.4" r="2.7"/><circle cx="422" cy="1740.4" r="2.7"/><circle cx="422" cy="1745.3" r="2.7"/><circle cx="422" cy="1751.4" r="2.7"/><circle cx="428.1" cy="1740.9" r="2.7"/><circle cx="434.4" cy="1736.5" r="2.7"/><circle cx="434.4" cy="1741.5" r="2.7"/><circle cx="440.6" cy="1736.5" r="2.7"/><circle cx="409.3" cy="1749.2" r="2.7"/><circle cx="415.6" cy="1748.6" r="2.7"/><circle cx="428.1" cy="1748.6" r="2.7"/><circle cx="428.1" cy="1754.2" r="2.7"/><circle cx="434.4" cy="1747.5" r="2.7"/><circle cx="434.4" cy="1752" r="2.7"/><circle cx="434.4" cy="1756.4" r="2.7"/><circle cx="440.6" cy="1751.4" r="2.7"/><circle cx="447.1" cy="1753.6" r="2.7"/><circle cx="447.1" cy="1758.6" r="2.7"/><circle cx="453.3" cy="1749.2" r="2.7"/><circle cx="415.6" cy="1763" r="2.7"/><circle cx="422" cy="1763.9" r="2.7"/><circle cx="428.1" cy="1760.8" r="2.7"/><circle cx="428.1" cy="1766.3" r="2.7"/><circle cx="428.1" cy="1771.8" r="2.7"/><circle cx="440.6" cy="1761.3" r="2.7"/><circle cx="440.6" cy="1767.4" r="2.7"/><circle cx="440.6" cy="1772.9" r="2.7"/><circle cx="447.1" cy="1765.2" r="2.7"/><circle cx="453.3" cy="1761.3" r="2.7"/><circle cx="409.3" cy="1772.7" r="2.7"/><circle cx="415.6" cy="1773.8" r="2.7"/><circle cx="422" cy="1776.8" r="2.7"/><circle cx="434.4" cy="1772.9" r="2.7"/><circle cx="434.4" cy="1777.9" r="2.7"/><circle cx="447.1" cy="1772.9" r="2.7"/><circle cx="453.3" cy="1776.3" r="2.7"/><circle cx="453.3" cy="1780.7" r="2.7"/><circle cx="459.6" cy="1772.7" r="2.7"/><circle cx="459.58" cy="1781.48" r="2.7"/><circle cx="415.69" cy="1781.73" r="2.7"/><circle cx="434.5" cy="1782.24" r="2.7"/><circle cx="440.77" cy="1783.63" r="2.7"/><circle cx="453.31" cy="1783.78" r="2.7"/><circle cx="421.96" cy="1784.29" r="2.7"/><circle cx="447.04" cy="1784.72" r="2.7"/><circle cx="428.23" cy="1784.89" r="2.7"/><circle cx="459.58" cy="1786.99" r="2.7"/><circle cx="434.5" cy="1788.09" r="2.7"/><circle cx="409.42" cy="1788.13" r="2.7"/><circle cx="421.96" cy="1788.65" r="2.7"/><circle cx="415.69" cy="1788.85" r="2.7"/><circle cx="453.31" cy="1789.42" r="2.7"/><circle cx="440.77" cy="1790.26" r="2.7"/><circle cx="428.23" cy="1790.34" r="2.7"/><circle cx="447.04" cy="1792.29" r="2.7"/><circle cx="415.69" cy="1793.17" r="2.7"/><circle cx="440.77" cy="1793.24" r="2.7"/><circle cx="434.5" cy="1794.41" r="2.7"/><circle cx="421.96" cy="1794.49" r="2.7"/><circle cx="409.42" cy="1795" r="2.7"/><circle cx="453.31" cy="1795.6" r="2.7"/><circle cx="459.58" cy="1796.06" r="2.7"/><circle cx="428.23" cy="1796.12" r="2.7"/><circle cx="447.04" cy="1796.59" r="2.7"/><circle cx="434.5" cy="1798.44" r="2.7"/><circle cx="428.23" cy="1799.12" r="2.7"/><circle cx="403.15" cy="1800.57" r="2.7"/><circle cx="440.77" cy="1800.68" r="2.7"/><circle cx="447.04" cy="1800.93" r="2.7"/><circle cx="459.58" cy="1801.52" r="2.7"/><circle cx="409.42" cy="1801.66" r="2.7"/><circle cx="453.31" cy="1801.96" r="2.7"/><circle cx="421.96" cy="1803.03" r="2.7"/><circle cx="415.69" cy="1803.41" r="2.7"/><circle cx="415.69" cy="1804.27" r="2.7"/><circle cx="440.77" cy="1804.88" r="2.7"/><circle cx="447.04" cy="1805.76" r="2.7"/><circle cx="434.5" cy="1805.98" r="2.7"/><circle cx="453.31" cy="1806.56" r="2.7"/><circle cx="459.58" cy="1806.78" r="2.7"/><circle cx="409.42" cy="1807.22" r="2.7"/><circle cx="428.23" cy="1807.86" r="2.7"/><circle cx="421.96" cy="1807.96" r="2.7"/><circle cx="415.69" cy="1810.87" r="2.7"/><circle cx="440.77" cy="1812.48" r="2.7"/><circle cx="447.04" cy="1813.93" r="2.7"/><circle cx="434.5" cy="1813.94" r="2.7"/><circle cx="428.23" cy="1814.39" r="2.7"/><circle cx="421.96" cy="1815.21" r="2.7"/><circle cx="415.69" cy="1816.07" r="2.7"/><circle cx="447.04" cy="1817.07" r="2.7"/><circle cx="440.77" cy="1817.68" r="2.7"/><circle cx="421.96" cy="1821.29" r="2.7"/><circle cx="428.23" cy="1821.58" r="2.7"/><circle cx="434.5" cy="1821.59" r="2.7"/><circle cx="428.23" cy="1823.05" r="2.7"/><circle cx="415.69" cy="1823.34" r="2.7"/><circle cx="421.96" cy="1824.09" r="2.7"/><circle cx="453.31" cy="1826.02" r="2.7"/><circle cx="434.5" cy="1826.27" r="2.7"/><circle cx="440.77" cy="1826.83" r="2.7"/><circle cx="447.04" cy="1827.08" r="2.7"/><circle cx="415.69" cy="1827.54" r="2.7"/><circle cx="453.31" cy="1828.14" r="2.7"/><circle cx="440.77" cy="1828.39" r="2.7"/><circle cx="428.23" cy="1828.6" r="2.7"/><circle cx="434.5" cy="1828.96" r="2.7"/><circle cx="447.04" cy="1830.57" r="2.7"/><circle cx="459.58" cy="1830.6" r="2.7"/><circle cx="409.42" cy="1830.78" r="2.7"/><circle cx="421.96" cy="1831.74" r="2.7"/><circle cx="440.77" cy="1833.6" r="2.7"/><circle cx="434.5" cy="1833.78" r="2.7"/><circle cx="465.85" cy="1833.91" r="2.7"/><circle cx="421.96" cy="1835.18" r="2.7"/><circle cx="428.23" cy="1835.26" r="2.7"/><circle cx="403.15" cy="1835.29" r="2.7"/><circle cx="415.69" cy="1835.43" r="2.7"/><circle cx="453.31" cy="1835.57" r="2.7"/><circle cx="447.04" cy="1836.97" r="2.7"/><circle cx="459.58" cy="1837.16" r="2.7"/><circle cx="409.42" cy="1837.45" r="2.7"/><circle cx="453.31" cy="1839.11" r="2.7"/><circle cx="428.23" cy="1839.48" r="2.7"/><circle cx="447.04" cy="1841" r="2.7"/><circle cx="440.77" cy="1841.42" r="2.7"/><circle cx="434.5" cy="1841.42" r="2.7"/><circle cx="415.69" cy="1841.82" r="2.7"/><circle cx="465.85" cy="1842.32" r="2.7"/><circle cx="403.15" cy="1843.23" r="2.7"/><circle cx="421.96" cy="1843.39" r="2.7"/><circle cx="459.58" cy="1843.82" r="2.7"/><circle cx="409.42" cy="1844.47" r="2.7"/><circle cx="440.77" cy="1845.94" r="2.7"/><circle cx="415.69" cy="1846.06" r="2.7"/><circle cx="434.5" cy="1847.96" r="2.7"/><circle cx="459.58" cy="1847.99" r="2.7"/><circle cx="453.31" cy="1848.18" r="2.7"/><circle cx="409.42" cy="1848.77" r="2.7"/><circle cx="403.15" cy="1848.78" r="2.7"/><circle cx="465.85" cy="1849.01" r="2.7"/><circle cx="447.04" cy="1849.93" r="2.7"/><circle cx="428.23" cy="1850.07" r="2.7"/><circle cx="421.96" cy="1850.19" r="2.7"/><circle cx="403.15" cy="1851.07" r="2.7"/><circle cx="421.96" cy="1851.12" r="2.7"/><circle cx="447.04" cy="1851.3" r="2.7"/><circle cx="434.5" cy="1851.78" r="2.7"/><circle cx="415.69" cy="1852.25" r="2.7"/><circle cx="472.12" cy="1852.48" r="2.7"/><circle cx="459.58" cy="1852.52" r="2.7"/><circle cx="453.31" cy="1852.77" r="2.7"/><circle cx="465.85" cy="1853.64" r="2.7"/><circle cx="428.23" cy="1855.06" r="2.7"/><circle cx="440.77" cy="1855.06" r="2.7"/><circle cx="409.42" cy="1855.67" r="2.7"/><circle cx="403.15" cy="1856.49" r="2.7"/><circle cx="421.96" cy="1856.54" r="2.7"/><circle cx="459.58" cy="1856.74" r="2.7"/><circle cx="434.5" cy="1857.11" r="2.7"/><circle cx="453.31" cy="1858.93" r="2.7"/><circle cx="415.69" cy="1859.77" r="2.7"/><circle cx="447.04" cy="1860.8" r="2.7"/><circle cx="409.42" cy="1861.24" r="2.7"/><circle cx="440.77" cy="1861.3" r="2.7"/><circle cx="465.85" cy="1861.62" r="2.7"/><circle cx="428.23" cy="1862.02" r="2.7"/><circle cx="409.42" cy="1863.26" r="2.7"/><circle cx="428.23" cy="1863.69" r="2.7"/><circle cx="421.96" cy="1864.52" r="2.7"/><circle cx="415.69" cy="1864.6" r="2.7"/><circle cx="434.5" cy="1864.9" r="2.7"/><circle cx="447.04" cy="1865.72" r="2.7"/><circle cx="440.77" cy="1866.21" r="2.7"/><circle cx="453.31" cy="1867.97" r="2.7"/><circle cx="421.96" cy="1868.26" r="2.7"/><circle cx="428.23" cy="1869" r="2.7"/><circle cx="447.04" cy="1870.22" r="2.7"/><circle cx="440.77" cy="1873.27" r="2.7"/><circle cx="434.5" cy="1873.58" r="2.7"/><circle cx="447.04" cy="1874.57" r="2.7"/><circle cx="428.23" cy="1875.48" r="2.7"/><circle cx="434.5" cy="1875.79" r="2.7"/><circle cx="440.77" cy="1875.86" r="2.7"/><circle cx="421.96" cy="1878.74" r="2.7"/><circle cx="434.5" cy="1881.13" r="2.7"/><circle cx="447.04" cy="1882.56" r="2.7"/><circle cx="440.77" cy="1884.11" r="2.7"/><circle cx="428.23" cy="1884.32" r="2.7"/><circle cx="421.96" cy="1885.03" r="2.7"/><circle cx="434.5" cy="1887" r="2.7"/><circle cx="434.4" cy="1890.2" r="2.7"/><circle cx="440.6" cy="1890.2" r="2.7"/><circle cx="434.4" cy="1895.7" r="2.7"/><circle cx="434.4" cy="1901.2" r="2.7"/><circle cx="427.9" cy="1906.1" r="2.7"/><circle cx="434.4" cy="1910.4" r="2.7"/><circle cx="434.4" cy="1916" r="2.7"/><circle cx="427.9" cy="1921.5" r="2.7"/><circle cx="440.6" cy="1924.5" r="2.7"/><circle cx="434.4" cy="1926.4" r="2.7"/><circle cx="421.8" cy="1927" r="2.7"/><circle cx="447" cy="1927" r="2.7"/></g>
<g fill="#aa00dc"><circle cx="533.3" cy="1682.2" r="2.7"/><circle cx="530.8" cy="1691.7" r="2.7"/><circle cx="535.9" cy="1690.6" r="2.7"/><circle cx="533.3" cy="1704" r="2.7"/><circle cx="533.3" cy="1715.8" r="2.7"/><circle cx="530.8" cy="1725.2" r="2.7"/><circle cx="535.9" cy="1729.3" r="2.7"/><circle cx="530.8" cy="1732.4" r="2.7"/><circle cx="520.8" cy="1742.5" r="2.7"/><circle cx="526" cy="1744.4" r="2.7"/><circle cx="530.8" cy="1740.7" r="2.7"/><circle cx="535.9" cy="1740.7" r="2.7"/><circle cx="540.8" cy="1740.7" r="2.7"/><circle cx="546.2" cy="1740.7" r="2.7"/><circle cx="526" cy="1750" r="2.7"/><circle cx="530.8" cy="1749" r="2.7"/><circle cx="535.9" cy="1750.5" r="2.7"/><circle cx="540.8" cy="1749.5" r="2.7"/><circle cx="530.8" cy="1756.2" r="2.7"/><circle cx="526" cy="1760.5" r="2.7"/><circle cx="535.9" cy="1759.5" r="2.7"/><circle cx="540.8" cy="1763" r="2.7"/><circle cx="526" cy="1765" r="2.7"/><circle cx="535.9" cy="1764.5" r="2.7"/><circle cx="538.3" cy="1769.57" r="2.7"/><circle cx="548.3" cy="1770.31" r="2.7"/><circle cx="533.3" cy="1770.74" r="2.7"/><circle cx="543.3" cy="1772.61" r="2.7"/><circle cx="518.3" cy="1772.97" r="2.7"/><circle cx="528.3" cy="1773.2" r="2.7"/><circle cx="523.3" cy="1773.3" r="2.7"/><circle cx="548.3" cy="1774.01" r="2.7"/><circle cx="513.3" cy="1774.14" r="2.7"/><circle cx="533.3" cy="1774.17" r="2.7"/><circle cx="528.3" cy="1774.69" r="2.7"/><circle cx="538.3" cy="1775.18" r="2.7"/><circle cx="518.3" cy="1776.6" r="2.7"/><circle cx="523.3" cy="1777.15" r="2.7"/><circle cx="543.3" cy="1777.16" r="2.7"/><circle cx="553.3" cy="1778.69" r="2.7"/><circle cx="533.3" cy="1779" r="2.7"/><circle cx="558.3" cy="1779.1" r="2.7"/><circle cx="548.3" cy="1779.17" r="2.7"/><circle cx="518.3" cy="1780.3" r="2.7"/><circle cx="513.3" cy="1780.44" r="2.7"/><circle cx="528.3" cy="1780.97" r="2.7"/><circle cx="503.3" cy="1782.01" r="2.7"/><circle cx="523.3" cy="1782.04" r="2.7"/><circle cx="553.3" cy="1782.07" r="2.7"/><circle cx="508.3" cy="1782.08" r="2.7"/><circle cx="543.3" cy="1782.25" r="2.7"/><circle cx="538.3" cy="1783.69" r="2.7"/><circle cx="513.3" cy="1784.08" r="2.7"/><circle cx="533.3" cy="1784.95" r="2.7"/><circle cx="508.3" cy="1785.33" r="2.7"/><circle cx="523.3" cy="1786.08" r="2.7"/><circle cx="553.3" cy="1786.38" r="2.7"/><circle cx="548.3" cy="1786.78" r="2.7"/><circle cx="543.3" cy="1786.98" r="2.7"/><circle cx="518.3" cy="1787.39" r="2.7"/><circle cx="563.3" cy="1787.81" r="2.7"/><circle cx="503.3" cy="1787.84" r="2.7"/><circle cx="538.3" cy="1788.26" r="2.7"/><circle cx="528.3" cy="1788.72" r="2.7"/><circle cx="558.3" cy="1788.73" r="2.7"/><circle cx="558.3" cy="1789.37" r="2.7"/><circle cx="513.3" cy="1789.7" r="2.7"/><circle cx="538.3" cy="1789.73" r="2.7"/><circle cx="518.3" cy="1790.62" r="2.7"/><circle cx="553.3" cy="1791.3" r="2.7"/><circle cx="548.3" cy="1792.2" r="2.7"/><circle cx="533.3" cy="1792.43" r="2.7"/><circle cx="523.3" cy="1792.82" r="2.7"/><circle cx="508.3" cy="1792.85" r="2.7"/><circle cx="543.3" cy="1793.17" r="2.7"/><circle cx="528.3" cy="1793.59" r="2.7"/><circle cx="513.3" cy="1794.29" r="2.7"/><circle cx="548.3" cy="1794.71" r="2.7"/><circle cx="543.3" cy="1795.85" r="2.7"/><circle cx="528.3" cy="1795.97" r="2.7"/><circle cx="533.3" cy="1795.98" r="2.7"/><circle cx="518.3" cy="1797.26" r="2.7"/><circle cx="523.3" cy="1797.26" r="2.7"/><circle cx="553.3" cy="1797.4" r="2.7"/><circle cx="508.3" cy="1798.01" r="2.7"/><circle cx="538.3" cy="1798.25" r="2.7"/><circle cx="548.3" cy="1799.15" r="2.7"/><circle cx="543.3" cy="1799.18" r="2.7"/><circle cx="553.3" cy="1799.39" r="2.7"/><circle cx="503.3" cy="1799.68" r="2.7"/><circle cx="518.3" cy="1800.19" r="2.7"/><circle cx="538.3" cy="1800.49" r="2.7"/><circle cx="558.3" cy="1800.53" r="2.7"/><circle cx="508.3" cy="1802.17" r="2.7"/><circle cx="528.3" cy="1802.7" r="2.7"/><circle cx="523.3" cy="1803" r="2.7"/><circle cx="513.3" cy="1803.06" r="2.7"/><circle cx="533.3" cy="1803.62" r="2.7"/><circle cx="518.3" cy="1804.04" r="2.7"/><circle cx="553.3" cy="1804.32" r="2.7"/><circle cx="523.3" cy="1804.72" r="2.7"/><circle cx="508.3" cy="1805.2" r="2.7"/><circle cx="533.3" cy="1805.47" r="2.7"/><circle cx="548.3" cy="1805.55" r="2.7"/><circle cx="543.3" cy="1806.75" r="2.7"/><circle cx="528.3" cy="1806.95" r="2.7"/><circle cx="558.3" cy="1807.12" r="2.7"/><circle cx="513.3" cy="1808.4" r="2.7"/><circle cx="538.3" cy="1808.43" r="2.7"/><circle cx="528.3" cy="1809.31" r="2.7"/><circle cx="548.3" cy="1809.47" r="2.7"/><circle cx="568.3" cy="1809.71" r="2.7"/><circle cx="533.3" cy="1809.78" r="2.7"/><circle cx="563.3" cy="1810.22" r="2.7"/><circle cx="523.3" cy="1810.39" r="2.7"/><circle cx="558.3" cy="1810.43" r="2.7"/><circle cx="513.3" cy="1810.55" r="2.7"/><circle cx="553.3" cy="1811.5" r="2.7"/><circle cx="503.3" cy="1811.71" r="2.7"/><circle cx="498.3" cy="1812.01" r="2.7"/><circle cx="543.3" cy="1812.44" r="2.7"/><circle cx="518.3" cy="1812.73" r="2.7"/><circle cx="508.3" cy="1812.74" r="2.7"/><circle cx="538.3" cy="1813.89" r="2.7"/><circle cx="533.3" cy="1815.7" r="2.7"/><circle cx="498.3" cy="1815.74" r="2.7"/><circle cx="563.3" cy="1815.77" r="2.7"/><circle cx="503.3" cy="1816.04" r="2.7"/><circle cx="548.3" cy="1816.22" r="2.7"/><circle cx="538.3" cy="1816.24" r="2.7"/><circle cx="543.3" cy="1816.37" r="2.7"/><circle cx="508.3" cy="1817.49" r="2.7"/><circle cx="553.3" cy="1817.56" r="2.7"/><circle cx="513.3" cy="1817.7" r="2.7"/><circle cx="558.3" cy="1817.82" r="2.7"/><circle cx="528.3" cy="1817.85" r="2.7"/><circle cx="518.3" cy="1818.17" r="2.7"/><circle cx="523.3" cy="1818.73" r="2.7"/><circle cx="568.3" cy="1818.97" r="2.7"/><circle cx="563.3" cy="1819.16" r="2.7"/><circle cx="523.3" cy="1819.4" r="2.7"/><circle cx="518.3" cy="1819.46" r="2.7"/><circle cx="513.3" cy="1820.21" r="2.7"/><circle cx="568.3" cy="1821.38" r="2.7"/><circle cx="558.3" cy="1821.71" r="2.7"/><circle cx="543.3" cy="1822.17" r="2.7"/><circle cx="498.3" cy="1822.36" r="2.7"/><circle cx="503.3" cy="1822.71" r="2.7"/><circle cx="573.3" cy="1822.74" r="2.7"/><circle cx="533.3" cy="1822.96" r="2.7"/><circle cx="548.3" cy="1823.16" r="2.7"/><circle cx="508.3" cy="1823.33" r="2.7"/><circle cx="538.3" cy="1823.56" r="2.7"/><circle cx="553.3" cy="1823.6" r="2.7"/><circle cx="528.3" cy="1823.68" r="2.7"/><circle cx="523.3" cy="1824.25" r="2.7"/><circle cx="503.3" cy="1824.73" r="2.7"/><circle cx="533.3" cy="1824.84" r="2.7"/><circle cx="538.3" cy="1825.29" r="2.7"/><circle cx="528.3" cy="1825.85" r="2.7"/><circle cx="563.3" cy="1825.9" r="2.7"/><circle cx="548.3" cy="1826.41" r="2.7"/><circle cx="558.3" cy="1826.41" r="2.7"/><circle cx="518.3" cy="1826.69" r="2.7"/><circle cx="553.3" cy="1826.76" r="2.7"/><circle cx="543.3" cy="1827.64" r="2.7"/><circle cx="508.3" cy="1828.74" r="2.7"/><circle cx="513.3" cy="1828.91" r="2.7"/><circle cx="508.3" cy="1829.65" r="2.7"/><circle cx="553.3" cy="1829.83" r="2.7"/><circle cx="518.3" cy="1829.86" r="2.7"/><circle cx="513.3" cy="1829.95" r="2.7"/><circle cx="543.3" cy="1831.74" r="2.7"/><circle cx="523.3" cy="1831.93" r="2.7"/><circle cx="528.3" cy="1832.16" r="2.7"/><circle cx="548.3" cy="1832.27" r="2.7"/><circle cx="533.3" cy="1833.44" r="2.7"/><circle cx="538.3" cy="1833.88" r="2.7"/><circle cx="523.3" cy="1834.26" r="2.7"/><circle cx="558.3" cy="1834.72" r="2.7"/><circle cx="543.3" cy="1835.29" r="2.7"/><circle cx="538.3" cy="1835.72" r="2.7"/><circle cx="513.3" cy="1836.01" r="2.7"/><circle cx="518.3" cy="1836.78" r="2.7"/><circle cx="548.3" cy="1837.1" r="2.7"/><circle cx="553.3" cy="1837.79" r="2.7"/><circle cx="528.3" cy="1837.87" r="2.7"/><circle cx="533.3" cy="1838.54" r="2.7"/><circle cx="553.3" cy="1839.15" r="2.7"/><circle cx="523.3" cy="1839.58" r="2.7"/><circle cx="548.3" cy="1840.31" r="2.7"/><circle cx="518.3" cy="1841.28" r="2.7"/><circle cx="538.3" cy="1841.29" r="2.7"/><circle cx="508.3" cy="1842.19" r="2.7"/><circle cx="528.3" cy="1842.27" r="2.7"/><circle cx="533.3" cy="1842.37" r="2.7"/><circle cx="513.3" cy="1843.16" r="2.7"/><circle cx="543.3" cy="1843.73" r="2.7"/><circle cx="558.3" cy="1843.9" r="2.7"/><circle cx="518.3" cy="1844.42" r="2.7"/><circle cx="553.3" cy="1844.56" r="2.7"/><circle cx="538.3" cy="1845.14" r="2.7"/><circle cx="528.3" cy="1845.27" r="2.7"/><circle cx="548.3" cy="1845.4" r="2.7"/><circle cx="503.3" cy="1845.91" r="2.7"/><circle cx="558.3" cy="1845.94" r="2.7"/><circle cx="543.3" cy="1846.14" r="2.7"/><circle cx="498.3" cy="1846.23" r="2.7"/><circle cx="508.3" cy="1847.17" r="2.7"/><circle cx="563.3" cy="1847.98" r="2.7"/><circle cx="533.3" cy="1848.51" r="2.7"/><circle cx="513.3" cy="1848.68" r="2.7"/><circle cx="523.3" cy="1848.94" r="2.7"/><circle cx="558.3" cy="1849.21" r="2.7"/><circle cx="518.3" cy="1849.38" r="2.7"/><circle cx="543.3" cy="1849.76" r="2.7"/><circle cx="563.3" cy="1850.16" r="2.7"/><circle cx="548.3" cy="1850.98" r="2.7"/><circle cx="503.3" cy="1851" r="2.7"/><circle cx="528.3" cy="1851.2" r="2.7"/><circle cx="523.3" cy="1851.37" r="2.7"/><circle cx="513.3" cy="1852.71" r="2.7"/><circle cx="553.3" cy="1852.73" r="2.7"/><circle cx="538.3" cy="1853.03" r="2.7"/><circle cx="508.3" cy="1853.26" r="2.7"/><circle cx="533.3" cy="1853.3" r="2.7"/><circle cx="503.3" cy="1854.13" r="2.7"/><circle cx="518.3" cy="1854.38" r="2.7"/><circle cx="563.3" cy="1854.57" r="2.7"/><circle cx="533.3" cy="1854.99" r="2.7"/><circle cx="508.3" cy="1855.02" r="2.7"/><circle cx="548.3" cy="1855.25" r="2.7"/><circle cx="558.3" cy="1855.29" r="2.7"/><circle cx="523.3" cy="1855.61" r="2.7"/><circle cx="538.3" cy="1856.94" r="2.7"/><circle cx="553.3" cy="1857.23" r="2.7"/><circle cx="528.3" cy="1857.63" r="2.7"/><circle cx="543.3" cy="1857.97" r="2.7"/><circle cx="513.3" cy="1858.98" r="2.7"/><circle cx="523.3" cy="1859.05" r="2.7"/><circle cx="563.3" cy="1859.15" r="2.7"/><circle cx="568.3" cy="1859.26" r="2.7"/><circle cx="498.3" cy="1859.38" r="2.7"/><circle cx="533.3" cy="1859.4" r="2.7"/><circle cx="538.3" cy="1860.26" r="2.7"/><circle cx="513.3" cy="1860.33" r="2.7"/><circle cx="503.3" cy="1860.54" r="2.7"/><circle cx="518.3" cy="1860.59" r="2.7"/><circle cx="548.3" cy="1861.69" r="2.7"/><circle cx="558.3" cy="1861.93" r="2.7"/><circle cx="553.3" cy="1862.08" r="2.7"/><circle cx="543.3" cy="1863.54" r="2.7"/><circle cx="508.3" cy="1863.6" r="2.7"/><circle cx="528.3" cy="1863.94" r="2.7"/><circle cx="558.3" cy="1864.87" r="2.7"/><circle cx="543.3" cy="1864.87" r="2.7"/><circle cx="533.3" cy="1865.1" r="2.7"/><circle cx="553.3" cy="1865.45" r="2.7"/><circle cx="548.3" cy="1865.59" r="2.7"/><circle cx="518.3" cy="1866.32" r="2.7"/><circle cx="538.3" cy="1866.32" r="2.7"/><circle cx="523.3" cy="1867.26" r="2.7"/><circle cx="513.3" cy="1868.11" r="2.7"/><circle cx="528.3" cy="1868.26" r="2.7"/><circle cx="543.3" cy="1869.28" r="2.7"/><circle cx="523.3" cy="1871.34" r="2.7"/><circle cx="533.3" cy="1872.02" r="2.7"/><circle cx="538.3" cy="1872.1" r="2.7"/><circle cx="528.3" cy="1872.84" r="2.7"/><circle cx="548.3" cy="1873.48" r="2.7"/><circle cx="528.3" cy="1874.04" r="2.7"/><circle cx="523.3" cy="1874.62" r="2.7"/><circle cx="548.3" cy="1875.5" r="2.7"/><circle cx="533.3" cy="1877.31" r="2.7"/><circle cx="538.3" cy="1877.58" r="2.7"/><circle cx="518.3" cy="1878.15" r="2.7"/><circle cx="543.3" cy="1878.24" r="2.7"/><circle cx="533.3" cy="1879.74" r="2.7"/><circle cx="543.3" cy="1880.65" r="2.7"/><circle cx="538.3" cy="1881.25" r="2.7"/><circle cx="518.3" cy="1881.59" r="2.7"/><circle cx="523.3" cy="1881.98" r="2.7"/><circle cx="513.3" cy="1882.27" r="2.7"/><circle cx="528.3" cy="1882.6" r="2.7"/><circle cx="548.3" cy="1882.68" r="2.7"/><circle cx="528.3" cy="1884.53" r="2.7"/><circle cx="543.3" cy="1885.01" r="2.7"/><circle cx="523.3" cy="1886.39" r="2.7"/><circle cx="518.3" cy="1887.47" r="2.7"/><circle cx="548.3" cy="1887.98" r="2.7"/><circle cx="538.3" cy="1888.22" r="2.7"/><circle cx="533.3" cy="1888.84" r="2.7"/><circle cx="528.3" cy="1889.99" r="2.7"/><circle cx="533.3" cy="1891.47" r="2.7"/><circle cx="520.8" cy="1895.5" r="2.7"/><circle cx="526" cy="1895" r="2.7"/><circle cx="530.8" cy="1893.5" r="2.7"/><circle cx="535.9" cy="1891.5" r="2.7"/><circle cx="535.9" cy="1897" r="2.7"/><circle cx="540.8" cy="1897" r="2.7"/><circle cx="530.8" cy="1900" r="2.7"/><circle cx="520.8" cy="1905" r="2.7"/><circle cx="526" cy="1906" r="2.7"/><circle cx="526" cy="1910.4" r="2.7"/><circle cx="530.8" cy="1908.5" r="2.7"/><circle cx="535.9" cy="1904.3" r="2.7"/><circle cx="535.9" cy="1910.4" r="2.7"/><circle cx="540.8" cy="1907.3" r="2.7"/><circle cx="546.2" cy="1906.4" r="2.7"/><circle cx="530.8" cy="1914.3" r="2.7"/><circle cx="530.8" cy="1919.8" r="2.7"/><circle cx="535.9" cy="1921.3" r="2.7"/><circle cx="533.3" cy="1930.4" r="2.7"/><circle cx="533.3" cy="1936.2" r="2.7"/><circle cx="533.3" cy="1959.6" r="2.7"/><circle cx="533.3" cy="1977.8" r="2.7"/><circle cx="533.3" cy="2006.3" r="2.7"/></g>
<g fill="#ff0000"><circle cx="632.8" cy="1661.6" r="2.7"/><circle cx="632.8" cy="1761.5" r="2.7"/><circle cx="632.8" cy="1803.5" r="2.7"/><circle cx="638.6" cy="1805.1" r="2.7"/><circle cx="632.8" cy="1808.5" r="2.7"/><circle cx="638.6" cy="1811.2" r="2.7"/><circle cx="626.2" cy="1814.5" r="2.7"/><circle cx="632.8" cy="1813.4" r="2.7"/><circle cx="638.6" cy="1816.2" r="2.7"/><circle cx="620.4" cy="1823.9" r="2.7"/><circle cx="613.8" cy="1827.2" r="2.7"/><circle cx="645.4" cy="1826.1" r="2.7"/><circle cx="651.4" cy="1827.8" r="2.7"/><circle cx="632.8" cy="1830.2" r="2.7"/><circle cx="613.99" cy="1832.34" r="2.7"/><circle cx="620.26" cy="1832.48" r="2.7"/><circle cx="639.07" cy="1832.77" r="2.7"/><circle cx="626.53" cy="1834.06" r="2.7"/><circle cx="645.34" cy="1834.95" r="2.7"/><circle cx="626.53" cy="1840.3" r="2.7"/><circle cx="632.8" cy="1841.12" r="2.7"/><circle cx="639.07" cy="1841.4" r="2.7"/><circle cx="626.53" cy="1843.41" r="2.7"/><circle cx="639.07" cy="1844.19" r="2.7"/><circle cx="632.8" cy="1846.79" r="2.7"/><circle cx="626.53" cy="1850.16" r="2.7"/><circle cx="620.26" cy="1852.1" r="2.7"/><circle cx="639.07" cy="1852.42" r="2.7"/><circle cx="632.8" cy="1852.51" r="2.7"/><circle cx="645.34" cy="1852.66" r="2.7"/><circle cx="651.61" cy="1855.12" r="2.7"/><circle cx="632.8" cy="1855.74" r="2.7"/><circle cx="626.53" cy="1856.55" r="2.7"/><circle cx="645.34" cy="1856.99" r="2.7"/><circle cx="639.07" cy="1858.25" r="2.7"/><circle cx="620.26" cy="1860.48" r="2.7"/><circle cx="632.8" cy="1862.06" r="2.7"/><circle cx="613.99" cy="1863.05" r="2.7"/><circle cx="651.61" cy="1863.63" r="2.7"/><circle cx="626.53" cy="1863.88" r="2.7"/><circle cx="620.26" cy="1864.56" r="2.7"/><circle cx="645.34" cy="1866.75" r="2.7"/><circle cx="639.07" cy="1866.83" r="2.7"/><circle cx="651.61" cy="1867.83" r="2.7"/><circle cx="626.53" cy="1868.04" r="2.7"/><circle cx="639.07" cy="1868.58" r="2.7"/><circle cx="664.15" cy="1868.92" r="2.7"/><circle cx="645.34" cy="1869.95" r="2.7"/><circle cx="607.72" cy="1870.01" r="2.7"/><circle cx="620.26" cy="1870.37" r="2.7"/><circle cx="657.88" cy="1870.98" r="2.7"/><circle cx="632.8" cy="1871.38" r="2.7"/><circle cx="613.99" cy="1872.19" r="2.7"/><circle cx="601.45" cy="1873.41" r="2.7"/><circle cx="632.8" cy="1873.52" r="2.7"/><circle cx="639.07" cy="1874.08" r="2.7"/><circle cx="651.61" cy="1874.76" r="2.7"/><circle cx="657.88" cy="1875.39" r="2.7"/><circle cx="645.34" cy="1875.9" r="2.7"/><circle cx="620.26" cy="1877.3" r="2.7"/><circle cx="664.15" cy="1877.41" r="2.7"/><circle cx="626.53" cy="1879.05" r="2.7"/><circle cx="607.72" cy="1879.2" r="2.7"/><circle cx="613.99" cy="1879.42" r="2.7"/><circle cx="632.8" cy="1879.96" r="2.7"/><circle cx="620.26" cy="1880.87" r="2.7"/><circle cx="613.99" cy="1882.07" r="2.7"/><circle cx="639.07" cy="1882.09" r="2.7"/><circle cx="657.88" cy="1882.12" r="2.7"/><circle cx="651.61" cy="1882.81" r="2.7"/><circle cx="664.15" cy="1882.87" r="2.7"/><circle cx="607.72" cy="1882.92" r="2.7"/><circle cx="645.34" cy="1884.53" r="2.7"/><circle cx="626.53" cy="1884.67" r="2.7"/><circle cx="639.07" cy="1886.22" r="2.7"/><circle cx="632.8" cy="1886.99" r="2.7"/><circle cx="664.15" cy="1887.27" r="2.7"/><circle cx="607.72" cy="1887.31" r="2.7"/><circle cx="620.26" cy="1887.59" r="2.7"/><circle cx="626.53" cy="1887.93" r="2.7"/><circle cx="651.61" cy="1888.1" r="2.7"/><circle cx="613.99" cy="1888.48" r="2.7"/><circle cx="645.34" cy="1889.47" r="2.7"/><circle cx="657.88" cy="1891.93" r="2.7"/><circle cx="632.8" cy="1892.15" r="2.7"/><circle cx="626.53" cy="1892.51" r="2.7"/><circle cx="639.07" cy="1892.56" r="2.7"/><circle cx="613.99" cy="1893.01" r="2.7"/><circle cx="651.61" cy="1894.27" r="2.7"/><circle cx="620.26" cy="1894.78" r="2.7"/><circle cx="645.34" cy="1895.52" r="2.7"/><circle cx="657.88" cy="1897.5" r="2.7"/><circle cx="607.72" cy="1898.17" r="2.7"/><circle cx="632.8" cy="1899.27" r="2.7"/><circle cx="645.34" cy="1900.78" r="2.7"/><circle cx="613.99" cy="1901.11" r="2.7"/><circle cx="651.61" cy="1902.46" r="2.7"/><circle cx="639.07" cy="1902.64" r="2.7"/><circle cx="620.26" cy="1902.65" r="2.7"/><circle cx="664.15" cy="1902.77" r="2.7"/><circle cx="607.72" cy="1903.14" r="2.7"/><circle cx="657.88" cy="1903.16" r="2.7"/><circle cx="601.45" cy="1903.88" r="2.7"/><circle cx="626.53" cy="1904.34" r="2.7"/><circle cx="645.34" cy="1904.69" r="2.7"/><circle cx="613.99" cy="1905.2" r="2.7"/><circle cx="657.88" cy="1905.77" r="2.7"/><circle cx="632.8" cy="1905.99" r="2.7"/><circle cx="620.26" cy="1906.13" r="2.7"/><circle cx="664.15" cy="1906.38" r="2.7"/><circle cx="607.72" cy="1906.39" r="2.7"/><circle cx="639.07" cy="1906.93" r="2.7"/><circle cx="626.53" cy="1909" r="2.7"/><circle cx="651.61" cy="1909.5" r="2.7"/><circle cx="626.53" cy="1910.66" r="2.7"/><circle cx="639.07" cy="1910.69" r="2.7"/><circle cx="651.61" cy="1912.57" r="2.7"/><circle cx="632.8" cy="1913.43" r="2.7"/><circle cx="613.99" cy="1913.74" r="2.7"/><circle cx="620.26" cy="1914.07" r="2.7"/><circle cx="645.34" cy="1915.67" r="2.7"/><circle cx="607.72" cy="1916.79" r="2.7"/><circle cx="620.26" cy="1916.9" r="2.7"/><circle cx="607.72" cy="1917.39" r="2.7"/><circle cx="657.88" cy="1917.83" r="2.7"/><circle cx="639.07" cy="1918.14" r="2.7"/><circle cx="664.15" cy="1918.93" r="2.7"/><circle cx="632.8" cy="1919.57" r="2.7"/><circle cx="613.99" cy="1921.48" r="2.7"/><circle cx="651.61" cy="1921.63" r="2.7"/><circle cx="626.53" cy="1922.34" r="2.7"/><circle cx="601.45" cy="1922.37" r="2.7"/><circle cx="645.34" cy="1922.47" r="2.7"/><circle cx="632.8" cy="1923.29" r="2.7"/><circle cx="651.61" cy="1926.54" r="2.7"/><circle cx="620.26" cy="1926.86" r="2.7"/><circle cx="639.07" cy="1927.47" r="2.7"/><circle cx="613.99" cy="1927.95" r="2.7"/><circle cx="645.34" cy="1928.2" r="2.7"/><circle cx="607.72" cy="1928.46" r="2.7"/><circle cx="626.53" cy="1929.08" r="2.7"/><circle cx="657.88" cy="1929.11" r="2.7"/><circle cx="639.07" cy="1929.3" r="2.7"/><circle cx="613.99" cy="1929.65" r="2.7"/><circle cx="645.34" cy="1930.3" r="2.7"/><circle cx="632.8" cy="1930.63" r="2.7"/><circle cx="626.53" cy="1932.39" r="2.7"/><circle cx="620.26" cy="1933.68" r="2.7"/><circle cx="607.72" cy="1934.26" r="2.7"/><circle cx="651.61" cy="1934.89" r="2.7"/><circle cx="613.99" cy="1935.51" r="2.7"/><circle cx="657.88" cy="1936.18" r="2.7"/><circle cx="632.8" cy="1938.33" r="2.7"/><circle cx="645.34" cy="1939.65" r="2.7"/><circle cx="639.07" cy="1940.89" r="2.7"/><circle cx="651.61" cy="1941.03" r="2.7"/><circle cx="626.53" cy="1941.19" r="2.7"/><circle cx="620.26" cy="1941.3" r="2.7"/><circle cx="639.07" cy="1943.3" r="2.7"/><circle cx="620.26" cy="1943.44" r="2.7"/><circle cx="626.53" cy="1943.68" r="2.7"/><circle cx="632.8" cy="1944.17" r="2.7"/><circle cx="645.34" cy="1944.41" r="2.7"/><circle cx="651.61" cy="1944.84" r="2.7"/><circle cx="613.99" cy="1946.14" r="2.7"/><circle cx="632.8" cy="1950.58" r="2.7"/><circle cx="645.34" cy="1951.66" r="2.7"/><circle cx="639.07" cy="1951.98" r="2.7"/><circle cx="626.53" cy="1952.2" r="2.7"/><circle cx="620.26" cy="1952.87" r="2.7"/><circle cx="626.53" cy="1954.73" r="2.7"/><circle cx="639.07" cy="1955.19" r="2.7"/><circle cx="645.34" cy="1955.64" r="2.7"/><circle cx="632.8" cy="1956.64" r="2.7"/><circle cx="613.8" cy="1967.3" r="2.7"/><circle cx="620.2" cy="1971" r="2.7"/><circle cx="626.3" cy="1968.4" r="2.7"/><circle cx="632.6" cy="1969.5" r="2.7"/><circle cx="638.7" cy="1969.3" r="2.7"/><circle cx="645.2" cy="1969.2" r="2.7"/><circle cx="651.3" cy="1970.7" r="2.7"/><circle cx="632.6" cy="1983.1" r="2.7"/><circle cx="632.6" cy="1990" r="2.7"/><circle cx="626.3" cy="1993" r="2.7"/><circle cx="638.7" cy="1993.8" r="2.7"/><circle cx="632.6" cy="2000.4" r="2.7"/><circle cx="626.3" cy="2002.7" r="2.7"/><circle cx="638.7" cy="2005.4" r="2.7"/><circle cx="632.6" cy="2006.9" r="2.7"/><circle cx="638.7" cy="2010.5" r="2.7"/><circle cx="626.3" cy="2012.6" r="2.7"/><circle cx="645.2" cy="2015.3" r="2.7"/><circle cx="626.3" cy="2019.2" r="2.7"/><circle cx="632.6" cy="2018.9" r="2.7"/><circle cx="638.7" cy="2017.9" r="2.7"/><circle cx="632.6" cy="2026.8" r="2.7"/><circle cx="638.7" cy="2030.3" r="2.7"/><circle cx="626.3" cy="2034.5" r="2.7"/><circle cx="632.6" cy="2037" r="2.7"/><circle cx="626.3" cy="2044.2" r="2.7"/><circle cx="632.6" cy="2042.8" r="2.7"/><circle cx="632.6" cy="2047.6" r="2.7"/><circle cx="626.3" cy="2051.8" r="2.7"/><circle cx="626.3" cy="2056.4" r="2.7"/><circle cx="638.7" cy="2055" r="2.7"/><circle cx="632.6" cy="2058.8" r="2.7"/><circle cx="632.6" cy="2067.8" r="2.7"/><circle cx="626.3" cy="2073.9" r="2.7"/><circle cx="626.3" cy="2079.2" r="2.7"/><circle cx="632.6" cy="2077.6" r="2.7"/><circle cx="638.7" cy="2080.9" r="2.7"/><circle cx="632.6" cy="2084.2" r="2.7"/><circle cx="629.4" cy="2090.3" r="2.7"/><circle cx="635.9" cy="2092.6" r="2.7"/><circle cx="632.6" cy="2098.3" r="2.7"/><circle cx="632.6" cy="2104" r="2.7"/><circle cx="632.6" cy="2139.3" r="2.7"/></g>
<line x1="187.2" y1="1870.1" x2="285.8" y2="1870.1" stroke="#000" stroke-width="4.4" />
<line x1="217.2" y1="1867.9" x2="255.8" y2="1867.9" stroke="#000" stroke-width="2.2" />
<line x1="217.2" y1="1872.3" x2="255.8" y2="1872.3" stroke="#000" stroke-width="2.2" />
<line x1="236.5" y1="1867.9" x2="236.5" y2="1872.3" stroke="#000" stroke-width="2.2" />
<line x1="286.2" y1="1851.2" x2="384.8" y2="1851.2" stroke="#000" stroke-width="4.4" />
<line x1="316.2" y1="1847" x2="354.8" y2="1847" stroke="#000" stroke-width="2.2" />
<line x1="316.2" y1="1855.4" x2="354.8" y2="1855.4" stroke="#000" stroke-width="2.2" />
<line x1="335.5" y1="1847" x2="335.5" y2="1855.4" stroke="#000" stroke-width="2.2" />
<line x1="385.4" y1="1805.5" x2="484" y2="1805.5" stroke="#000" stroke-width="4.4" />
<line x1="415.4" y1="1801.3" x2="454" y2="1801.3" stroke="#000" stroke-width="2.2" />
<line x1="415.4" y1="1809.7" x2="454" y2="1809.7" stroke="#000" stroke-width="2.2" />
<line x1="434.7" y1="1801.3" x2="434.7" y2="1809.7" stroke="#000" stroke-width="2.2" />
<line x1="484.5" y1="1826" x2="583.1" y2="1826" stroke="#000" stroke-width="4.4" />
<line x1="514.5" y1="1822.3" x2="553.1" y2="1822.3" stroke="#000" stroke-width="2.2" />
<line x1="514.5" y1="1829.7" x2="553.1" y2="1829.7" stroke="#000" stroke-width="2.2" />
<line x1="533.8" y1="1822.3" x2="533.8" y2="1829.7" stroke="#000" stroke-width="2.2" />
<line x1="583.8" y1="1924" x2="682.4" y2="1924" stroke="#000" stroke-width="4.4" />
<line x1="613.8" y1="1917.8" x2="652.4" y2="1917.8" stroke="#000" stroke-width="2.2" />
<line x1="613.8" y1="1930.2" x2="652.4" y2="1930.2" stroke="#000" stroke-width="2.2" />
<line x1="633.1" y1="1917.8" x2="633.1" y2="1930.2" stroke="#000" stroke-width="2.2" />
<path d="M321.6,1593L321.6,1614.2M312.42,1598.3L330.78,1608.9M312.42,1608.9L330.78,1598.3" stroke="#000" stroke-width="4.3" fill="none"/>
<path d="M348.2,1593L348.2,1614.2M339.02,1598.3L357.38,1608.9M339.02,1608.9L357.38,1598.3" stroke="#000" stroke-width="4.3" fill="none"/>
<path d="M408.6,1593L408.6,1614.2M399.42,1598.3L417.78,1608.9M399.42,1608.9L417.78,1598.3" stroke="#000" stroke-width="4.3" fill="none"/>
<path d="M434.8,1593L434.8,1614.2M425.62,1598.3L443.98,1608.9M425.62,1608.9L443.98,1598.3" stroke="#000" stroke-width="4.3" fill="none"/>
<path d="M461.2,1593L461.2,1614.2M452.02,1598.3L470.38,1608.9M452.02,1608.9L470.38,1598.3" stroke="#000" stroke-width="4.3" fill="none"/>
<path d="M505.9,1617L505.9,1638.2M496.72,1622.3L515.08,1632.9M496.72,1632.9L515.08,1622.3" stroke="#000" stroke-width="4.3" fill="none"/>
<path d="M532.1,1617L532.1,1638.2M522.92,1622.3L541.28,1632.9M522.92,1632.9L541.28,1622.3" stroke="#000" stroke-width="4.3" fill="none"/>
<path d="M558.4,1617L558.4,1638.2M549.22,1622.3L567.58,1632.9M549.22,1632.9L567.58,1622.3" stroke="#000" stroke-width="4.3" fill="none"/>
<path d="M606.6,1617L606.6,1638.2M597.42,1622.3L615.78,1632.9M597.42,1632.9L615.78,1622.3" stroke="#000" stroke-width="4.3" fill="none"/>
<path d="M632.9,1617L632.9,1638.2M623.72,1622.3L642.08,1632.9M623.72,1632.9L642.08,1622.3" stroke="#000" stroke-width="4.3" fill="none"/>
<path d="M659.3,1617L659.3,1638.2M650.12,1622.3L668.48,1632.9M650.12,1632.9L668.48,1622.3" stroke="#000" stroke-width="4.3" fill="none"/>
</svg>
</body></html>
